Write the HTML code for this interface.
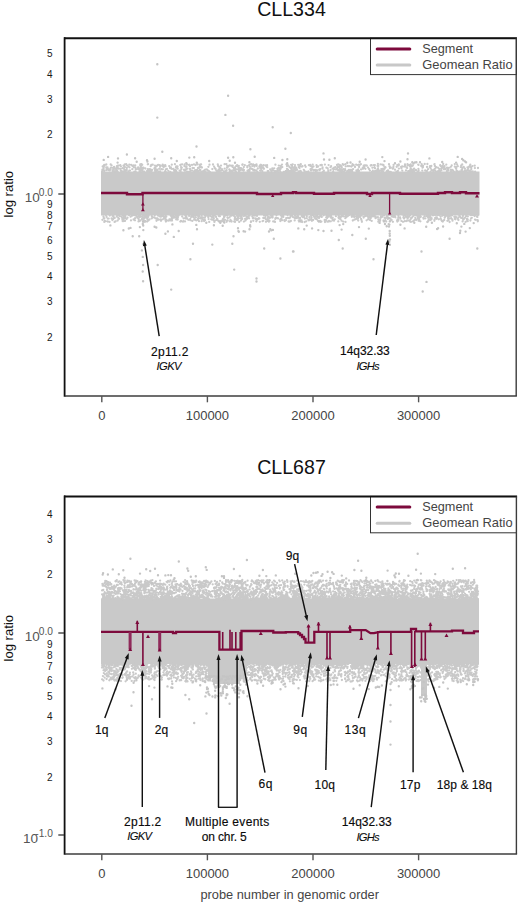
<!DOCTYPE html><html><head><meta charset="utf-8"><style>html,body{margin:0;padding:0;background:#fff;width:520px;height:903px;overflow:hidden}svg{display:block}text{font-family:"Liberation Sans",sans-serif}</style></head><body>
<svg width="520" height="903" viewBox="0 0 520 903">
<rect width="520" height="903" fill="#fff"/>
<text x="291.5" y="15.8" font-size="19.6" text-anchor="middle" fill="#111" >CLL334</text>
<rect x="101" y="171.5" width="378.5" height="44" fill="#c9c9c9"/>
<path d="M223.9 171.3h0M347.1 171.7h0M303.8 169.8h0M123.8 168.7h0M116.1 169.3h0M128.3 171.6h0M261.8 165.8h0M148.6 170.9h0M338.2 164.5h0M319.3 169.6h0M469.6 171.9h0M425.2 170.4h0M156.3 171.5h0M218.1 165.9h0M170 168h0M342.6 169.8h0M308.2 171.8h0M124.4 171h0M358.2 169.3h0M220.3 168h0M272.6 170.3h0M401.1 167h0M193.9 168.1h0M299.7 165.3h0M376.6 170.4h0M471 171.5h0M259.4 166.4h0M159.2 168.8h0M116.8 167.3h0M389.9 168.1h0M431.6 170.2h0M363.8 167.9h0M320.3 169.1h0M418.2 164.6h0M280.5 167.3h0M124.8 167h0M345.6 164.1h0M411.5 170.4h0M247.3 167.3h0M110.5 169.1h0M165.3 171.5h0M124.2 166.3h0M150.7 170.7h0M249.2 165.3h0M132.3 169.2h0M308.9 165.2h0M410.5 165.4h0M206.8 169.4h0M237.1 165.2h0M462.6 171.3h0M168.3 170.8h0M189.9 168.9h0M323.8 170.6h0M103.5 169.4h0M241 168.2h0M460.8 167.1h0M296.1 167.7h0M356.6 171.8h0M440.7 166.2h0M431.3 166h0M249.7 169.6h0M141 167.6h0M125.4 171.8h0M180.6 171.2h0M230 171.8h0M102.1 171.3h0M140.2 169.9h0M111.6 165.3h0M333.2 171.3h0M197 170h0M239.1 171.5h0M421.6 164.1h0M277.4 168.9h0M134.3 171.6h0M231 170.6h0M414.1 171.3h0M110.7 164.5h0M300.9 171.3h0M306.5 171.9h0M300.8 164.2h0M427 167h0M200.3 169.8h0M164.9 166.3h0M302.5 166.2h0M226.1 170.9h0M407.5 164.2h0M423 166h0M410.1 166.6h0M187.4 168.6h0M235.9 171.9h0M112.5 170.5h0M199.6 167h0M462.1 169.2h0M454.8 164.1h0M461.6 169.8h0M185 170.8h0M176.1 171h0M337 165h0M418.4 168.9h0M347.8 166h0M133.9 167.3h0M444.5 166.2h0M384.4 168.9h0M169.2 166.1h0M227.2 166h0M467.8 169.6h0M253.1 164.5h0M374.9 171.2h0M149.8 171.3h0M442.7 166h0M157 165.8h0M471.1 167.4h0M233.9 168.3h0M151.3 172h0M467.5 167.4h0M300.3 164.7h0M265.3 165.3h0M413 170.9h0M196.8 170.4h0M192.6 168h0M199.7 169.4h0M151.3 164.9h0M235.2 169.1h0M321.6 165h0M260.4 164.8h0M290.9 168.5h0M299.1 172h0M267.7 171.1h0M103.5 166h0M166.9 169h0M375 168.3h0M224.7 168.6h0M311.1 166.2h0M142 168.2h0M195.6 170.5h0M392.8 168.7h0M313.5 166.4h0M445.6 169.2h0M332.6 168.7h0M294.8 167h0M272.3 168.5h0M282 164.6h0M365.3 165.3h0M456.7 170.6h0M312.7 164.6h0M418.3 171.4h0M147.8 169.2h0M129.3 170.7h0M129.5 167.3h0M397.2 165.1h0M160.1 166.8h0M350.6 171.4h0M434.4 164.3h0M184.7 164.5h0M251.9 168.9h0M474.7 165.7h0M162.8 169.3h0M296.1 170h0M175.7 170.2h0M373.9 172h0M310.6 169.2h0M108.8 170.1h0M336.9 168.6h0M126.2 164.2h0M398.8 164.3h0M141.4 170.6h0M116.9 166.2h0M203.8 171.4h0M261 164.9h0M410.3 170.6h0M158.2 164.8h0M316.8 167h0M135.7 171.8h0M361.1 169.4h0M129.3 164.6h0M340.9 166h0M133.5 165.5h0M127.1 165.4h0M272.8 170h0M310.2 164.8h0M202.8 171.4h0M300.4 170.8h0M143.2 171.3h0M121 171h0M219.5 170.3h0M388 170.4h0M290.3 171.2h0M232.6 172h0M196.3 172h0M378 168.3h0M173.3 169h0M453.9 171.6h0M410.3 169.3h0M288.4 165.7h0M250 168.7h0M360.9 164.2h0M231 165.7h0M368.1 167.6h0M254.4 170h0M122.5 171.4h0M128.6 166.6h0M198.2 171.2h0M133.8 165.6h0M429.8 167.2h0M208.1 170.7h0M212.3 169.1h0M161.3 169.2h0M201.1 164.4h0M468.2 168.3h0M194 164.4h0M218.5 169.9h0M102.4 169.7h0M280.7 168.7h0M177.7 168.7h0M103.9 170.6h0M135.8 169.6h0M117.7 171.9h0M216.5 170.8h0M322.5 168.5h0M384.6 167.4h0M371.6 165.2h0M248.7 170.1h0M472.8 171.3h0M374.6 167.5h0M118.5 165.7h0M437.8 167.6h0M378.3 165.9h0M154.4 168.5h0M291.9 165.7h0M405 165.8h0M321.9 165.1h0M359.1 167h0M188.6 171.9h0M152.1 169.9h0M141.5 165.7h0M312.3 167.6h0M337.8 167.1h0M286.2 172h0M402.3 166.5h0M291.4 168.5h0M350.2 171.8h0M379.4 170.7h0M130 170.6h0M376.6 171h0M380.5 164.3h0M288 169.7h0M282.3 167.1h0M390.8 167.7h0M344 171.7h0M157.5 170.7h0M381.8 170.3h0M315.8 172h0M124.8 170.6h0M355 167h0M356.4 170.4h0M296.5 169h0M277.6 171.5h0M438.5 171h0M470.3 164.7h0M108.6 169.1h0M410.7 164.3h0M271.2 170.6h0M181 164.6h0M181.3 168h0M155.4 168.5h0M460.7 171.4h0M410.8 168.7h0M435.9 166.9h0M189.1 165h0M285 171.9h0M103.4 168.8h0M271.7 170.3h0M155 170h0M221 165.6h0M102.7 166.5h0M417.9 171.5h0M450.8 166.8h0M441.4 170.4h0M242.1 169.6h0M478 168h0M237.8 169.3h0M205.6 171.8h0M140.3 165.7h0M209.5 164.7h0M195.9 170.6h0M294.4 171.1h0M242.6 164.5h0M434.9 165.9h0M339.5 164.9h0M456.2 168.3h0M372.9 171.8h0M377.7 169.2h0M385.4 167.5h0M209.8 171.8h0M450.9 171.5h0M279.8 170h0M214.1 166.6h0M469.6 170.6h0M349 170.3h0M311.8 169.6h0M165 171.3h0M180.3 165h0M289.1 170.9h0M443.2 164h0M271.4 171.4h0M174.4 171.6h0M230.7 171.6h0M192 170.6h0M316.5 165.2h0M384.2 169.5h0M257.8 168.5h0M243.9 170h0M125.4 170.5h0M466.3 171.5h0M291.5 167.6h0M426.9 170.9h0M204 170.7h0M252.5 169.2h0M461.2 165.5h0M430.6 171.9h0M114.1 166.9h0M439.2 169h0M323.1 172h0M249.4 164.8h0M412.8 165.5h0M468 170.7h0M143.1 171.3h0M298.7 167.1h0M456.5 166.8h0M345.7 166.4h0M274.2 168.3h0M116.9 166.2h0M189.6 164.8h0M345 170.3h0M150.2 170.7h0M341.6 167h0M144.2 171.7h0M299.5 168h0M248.1 170.9h0M328.3 172h0M215.5 169.1h0M463 167.5h0M434.7 169h0M190.4 170.7h0M463.7 166.9h0M217.7 171.9h0M289.6 167.2h0M260.1 170.6h0M353.3 164.8h0M187.4 171.9h0M229.3 169.4h0M359 171h0M402.1 166.6h0M292.1 171h0M467.2 170.2h0M410.7 170.8h0M185.4 166.4h0M213 164.5h0M288.7 171.1h0M186.1 169.4h0M352.5 164.5h0M157.1 169.6h0M182.2 164.3h0M155.4 171.8h0M124.6 169.6h0M440.2 165.2h0M377.9 164h0M452.7 170.1h0M171.8 164.7h0M383 171.9h0M352.2 169.7h0M242.8 170.1h0M165.7 172h0M207.3 169.9h0M461.8 171.5h0M465 171h0M236.3 165.8h0M411.5 169.3h0M120.5 169h0M242.3 164.8h0M174.7 169.8h0M439.7 171.9h0M256.7 165.9h0M390.7 171.9h0M115.1 171.8h0M448.4 170.6h0M383.4 165h0M229.7 170.5h0M462.6 167.7h0M200.7 166.8h0M221.2 170.5h0M103.4 166.4h0M447 167.6h0M457.1 171.9h0M190.1 169h0M462.2 164.5h0M247.5 170.7h0M263.9 168.8h0M451.4 171.1h0M404.2 166.6h0M411.8 166.3h0M330.6 170.1h0M222.3 169.9h0M396.5 171.7h0M176.3 166.5h0M195.1 171.8h0M114.7 168.3h0M224.6 164.2h0M434.6 164.1h0M201.7 171.7h0M138.3 168.8h0M369.2 169.2h0M190.2 169.4h0M335.5 167.2h0M383.6 165.6h0M352.2 171.5h0M418.6 170.4h0M315.4 169.8h0M379.9 171h0M195.2 170.7h0M159.7 165.2h0M319.7 170.1h0M251.1 164.1h0M293 170.8h0M406.4 167.4h0M475.1 171.6h0M280.7 165.8h0M418.5 164.9h0M117.2 170.4h0M146.9 171.1h0M468.3 168h0M452.2 169.8h0M428.1 169.2h0M199.9 166.2h0M458.1 171.6h0M326.4 167.7h0M183.9 169.8h0M155.2 171h0M198 167.9h0M347.3 171h0M106.3 170.1h0M357.4 171.1h0M219.5 171h0M401.4 168.3h0M125.8 171.6h0M250.8 168.3h0M342.7 171.6h0M163.6 167h0M256.3 170.4h0M217.8 164.5h0M219.6 168.2h0M236.5 169.4h0M427.4 164h0M239 171h0M376.1 171h0M104.2 165h0M261.5 165.8h0M254.9 165.2h0M275.5 171.2h0M107.6 168.3h0M343.2 164.9h0M135.5 167.7h0M241.6 168.7h0M156.9 170.4h0M298.2 164.8h0M143 168.8h0M405 164.3h0M176.3 171.5h0M457.1 164.3h0M283.8 171.8h0M450.7 169.7h0M442.4 167.7h0M412.4 171.3h0M397.9 170.9h0M254.3 165.6h0M414.2 171.1h0M184.1 169.6h0M297 169.7h0M148.3 170.7h0M374.9 165.1h0M117.5 168.2h0M387.2 171.9h0M417.6 171.5h0M327.7 168.3h0M338.1 170.3h0M260.2 168h0M262.3 167.3h0M270.2 169.3h0M110.8 167.7h0M286.3 170.8h0M389.5 166.2h0M274.5 171.1h0M280.2 171.6h0M150.4 169.3h0M136.5 169.2h0M294.1 171.9h0M341.6 171.7h0M378.2 166.2h0M294.6 171.8h0M291.7 169.7h0M460 171.4h0M424.7 164h0M377.6 165.9h0M174.9 164.2h0M287.2 164.4h0M446.9 171.2h0M398.8 164.7h0M126.7 169.9h0M386.7 171.3h0M439.5 170.5h0M409.1 171.4h0M291.1 164.8h0M180.4 170.6h0M292.5 170.2h0M115.9 171.1h0M162.7 164.7h0M357.9 165.1h0M165.5 166.2h0M145.3 168.5h0M341.6 169.9h0M430.7 168.3h0M320.4 165.2h0M141.4 164.1h0M339.1 169.6h0M402.3 170.6h0M474.9 168.1h0M237.6 166.4h0M268.5 171.2h0M382 171.8h0M410.7 170.7h0M342.7 164.2h0M322.6 167.3h0M219.7 172h0M114.7 171.3h0M333.9 169.3h0M295 165.1h0M151.7 170.8h0M347.9 171.9h0M103 169.9h0M142 169.9h0M186.4 168h0M323.8 171h0M336.9 169h0M152.7 164.7h0M193.7 171.3h0M138.1 167.5h0M430 166.2h0M253.3 170.6h0M106.3 167.5h0M313.7 170h0M345.1 169.2h0M454.8 166.7h0M195.6 165h0M118.6 168.5h0M254.9 170.8h0M124 166.2h0M106.6 168.3h0M456.3 171.4h0M177.1 167.8h0M292.9 167.5h0M408.2 171.2h0M218.5 170.3h0M120.3 165.1h0M396.8 166.8h0M104.4 165.6h0M382.6 169h0M381.3 169.1h0M187.1 171.6h0M189.5 171.9h0M228.3 166.5h0M363.7 165.6h0M369.9 170.6h0M310.5 169.3h0M398.9 168.6h0M201.9 167.5h0M465.4 170.9h0M433.3 172h0M200 170.8h0M382.1 164.6h0M382.9 170.1h0M433.4 170.1h0M192 164.9h0M339.5 167h0M352.5 164.2h0M278.8 165.6h0M364.7 165.4h0M266.6 166.7h0M316.7 170.3h0M181.8 167.7h0M131.3 164.9h0M156.4 171.9h0M142.2 164.7h0M231.8 171.4h0M112.8 171.9h0M362.8 167.6h0M364.4 166.6h0M126.8 168h0M238.8 165.8h0M410.6 165.1h0M126.8 165.3h0M446.3 164.6h0M142.3 171h0M144.2 171.9h0M421.2 165.9h0M340.8 165.8h0M339.8 170.4h0M139.6 171.6h0M387.1 171h0M222.2 169.4h0M109.9 170.6h0M208.4 166.8h0M240.6 170.2h0M464.9 168.7h0M422.5 167.7h0M113.7 169.5h0M266.3 166.3h0M232.6 166.9h0M304.5 170.9h0M426.6 171.6h0M410.7 171.2h0M102.5 171h0M389 164.2h0M103.6 168.8h0M287 166h0M171.5 168.8h0M232.7 165.7h0M200.1 164.6h0M208.8 170.9h0M365.4 168.8h0M143.4 167.6h0M132.5 166.1h0M364.5 166.1h0M338.4 169.9h0M253.1 169.6h0M437.2 171.7h0M436.5 171.9h0M179.6 170.6h0M441.3 168.7h0M244.8 165.2h0M189.9 169.1h0M302.1 166.5h0M385.5 167.5h0M233.2 170.1h0M160.5 165.6h0M351.3 166.6h0M165.8 169.3h0M393.2 168.1h0M149.5 169.1h0M435.2 170.8h0M174.1 170.3h0M366.7 165.6h0M160.2 171.3h0M195.2 170.1h0M298.6 171.3h0M225.5 171.1h0M469.1 166.7h0M140.3 164.4h0M140.3 169.7h0M472.4 166.1h0M378.1 169.3h0M175.9 167.5h0M142.2 171h0M248.2 171.9h0M252.2 166.1h0M363.1 168.7h0M340.1 169.1h0M155.4 167.8h0M254.4 166.6h0M443.9 169.3h0M318.1 166.5h0M260.6 170.8h0M373.9 165.2h0M393.4 167h0M422.9 167.2h0M343.5 169.1h0M219.8 167.6h0M138.8 169.4h0M396.6 166.8h0M339 170.7h0M261.5 169.1h0M336 169.5h0M356.2 164.7h0M170.9 167.4h0M395 169.7h0M286.4 164.3h0M116.4 168.4h0M162.6 166.2h0M456.1 168.6h0M140.1 168.1h0M305.7 166.8h0M294.8 167.5h0M414.1 168.6h0M256.5 164.5h0M181.1 167.1h0M249.8 166.4h0M148.1 164.2h0M235.8 171.8h0M205.3 169.6h0M107 169.4h0M260.3 167h0M234.6 170.6h0M186.5 166.6h0M455.9 168.5h0M184.4 166h0M249.6 170.9h0M150.7 166.2h0M406.8 167.6h0M278.6 168.2h0M187.1 164.4h0M235 167.5h0M410.3 165.9h0M278.2 170.4h0M308.4 171.5h0M415.9 169.9h0M422.3 170.6h0M243.6 170.7h0M262.4 171.1h0M103 166.8h0M207.9 170.7h0M215.6 168.9h0M263.3 167.5h0M350.2 169.9h0M451.7 165.5h0M123.5 165.7h0M443 166.2h0M154.9 165.7h0M340.4 172h0M106.3 164.5h0M349 170.7h0M140.2 171.4h0M190 166.2h0M232.4 171.3h0M442.4 166.1h0M165.2 165.1h0M331.1 166.2h0M353.7 165.1h0M398.7 165.6h0M176.3 167h0M301.8 166.6h0M267.1 165.2h0M311 170.6h0M190.2 171.4h0M287.6 171.8h0M277.9 171.4h0M287 168.8h0M305.1 165.4h0M104.5 165.6h0M278.2 168.2h0M352.5 165.6h0M243.2 169.4h0M463.7 171.7h0M341.8 167.6h0M112.7 167.8h0M359 164.7h0M226.4 164.2h0M294.3 168.9h0M439.9 171.9h0M372.4 167.7h0M229.5 165.4h0M239.9 169h0M299.9 166.3h0M181.3 169.3h0M261 168.3h0M413.3 170.4h0M413.6 169.5h0M291.7 170.5h0M292.7 164.3h0M348.4 166.1h0M226.6 170.2h0M214.7 168h0M341 166.2h0M117.1 166.8h0M435.4 168.4h0M120.7 170.3h0M104.3 171.1h0M448.9 167.8h0M349.7 166.1h0M444.5 167.8h0M334.2 167.6h0M364.2 167.9h0M358.4 170.9h0M353.1 169.1h0M389.1 171.6h0M170.3 171.9h0M393.6 164.9h0M348.9 169.8h0M411.7 166.1h0M313.6 170.6h0M215.7 169.4h0M221.9 169.3h0M343.6 164.7h0M122.6 168.2h0M116.8 171.5h0M407.1 168.1h0M447.9 169.2h0M107.3 169.7h0M324.9 164.6h0M471.3 169h0M257.3 171.6h0M344.7 170.9h0M159.1 172h0M103.8 167.1h0M147.8 164.3h0M135.2 165.3h0M150.6 172h0M372.8 170.7h0M378.2 171.1h0M120.9 166.3h0M370.7 165.5h0M376.7 171.7h0M338.7 166.9h0M275.4 164.7h0M197.7 164.4h0M372 172h0M107.5 167.4h0M409.7 171.7h0M219.1 166.7h0M164.5 165.4h0M285.1 171.8h0M240.4 168.1h0M267.2 167.2h0M156.6 166h0M238.8 167.5h0M339.1 169.4h0M247.2 166.1h0M457.8 166.2h0M315.4 170.4h0M124.8 164.3h0M366.8 165.7h0M227 167.8h0M470 165.7h0M328.3 170.3h0M263.4 165.1h0M243.8 167.1h0M328.6 165.1h0M406 170.4h0M102.6 170.6h0M261.1 168h0M409.2 165.2h0M117.9 165.7h0M407.6 165.4h0M317.3 170.5h0M422.5 165.9h0M359.8 164.9h0M232.6 171.7h0M310.5 166h0M177.5 166.5h0M452.8 170.8h0M330.5 167.2h0M277.2 171h0M197.9 219.8h0M400.1 217.5h0M135 220.3h0M392.7 216.1h0M320.2 221.1h0M435.2 218h0M281.4 218.5h0M173.2 215.8h0M170 219.4h0M238.6 218.3h0M253.5 218h0M158.1 215.1h0M477.4 216.9h0M142 218.9h0M398.4 215.6h0M326.9 216.8h0M297.6 215h0M114.6 221.9h0M428.1 217.7h0M315.5 216.2h0M395.4 217.3h0M458.4 220h0M410.3 221.7h0M197.6 215.1h0M177.7 215.8h0M133.5 215.1h0M311.9 220.8h0M274.5 221.5h0M444.6 215.2h0M327.2 217.1h0M147.1 221.6h0M198.8 218.3h0M343.2 221.6h0M354.2 217.1h0M270.8 215.6h0M465.6 221.9h0M185.5 215.1h0M198.3 216.8h0M441.9 221.1h0M417.2 215.1h0M398.1 219.5h0M345.5 221.9h0M123 215.6h0M386.2 221.5h0M356.8 216.5h0M324.7 219.9h0M141.7 216.6h0M198.8 215.5h0M283.2 215.7h0M191.8 215.6h0M357.1 215h0M372 215.8h0M115.6 221.3h0M185 221.4h0M428.3 221h0M154.6 217.5h0M138.5 221.4h0M419.1 218.8h0M272.3 216.7h0M411.9 217.7h0M338.5 215.6h0M185.5 215.2h0M370.7 218.2h0M156.5 220.8h0M202.3 217.2h0M160.6 216.3h0M418.1 216.7h0M165.2 217.8h0M221.8 221.1h0M145 221.8h0M123.4 221.1h0M353.6 215.9h0M281.8 216.4h0M199.1 215.9h0M239.2 221.9h0M477.8 221.3h0M138.7 216.4h0M439.4 215.2h0M375.5 216.4h0M470.5 215h0M405.8 216.7h0M154.8 215h0M415.3 218h0M172 217.4h0M445.4 216h0M317.1 215.5h0M169.8 220h0M369.9 215.8h0M131.8 215.3h0M331.1 217.8h0M205.1 215.9h0M332.6 219.5h0M407.6 218.5h0M178.2 215.2h0M377.9 217.2h0M373.7 215.2h0M407.2 216.7h0M419 220.8h0M287.6 215h0M444.7 217.7h0M430.3 216.3h0M172 220.5h0M240.2 215.7h0M241.7 218.6h0M103.7 218h0M269.8 218h0M147.5 219.5h0M409.4 220.8h0M222.8 219.5h0M245.6 219.8h0M125 220.9h0M461.2 217.8h0M295.3 218.1h0M304.3 215h0M466.2 216h0M170.7 215.4h0M196.3 220.4h0M113.3 215.3h0M365.2 215.8h0M108.7 218.6h0M319 218h0M366.5 215.4h0M429.4 219.5h0M119 215.5h0M287.8 217.8h0M207.3 215.5h0M254.7 215.5h0M324.8 220.8h0M157.4 218.4h0M383.1 215.7h0M413 221.4h0M248.4 217.3h0M418.2 218h0M251 221.5h0M394.5 216.7h0M192.5 216.7h0M266 221.8h0M404.8 221.2h0M408.9 220.6h0M122.2 218h0M462.6 221.4h0M195.9 217.3h0M340.2 216.9h0M301.8 215.2h0M265 217.9h0M109.8 215.5h0M467.1 220h0M454.8 218.9h0M406.7 221h0M435.1 215.1h0M343.6 216.3h0M357.4 216.3h0M306.2 221.3h0M335.9 216.2h0M297.9 217.4h0M460 216.4h0M217 219h0M147.3 218.6h0M462 217.9h0M203.1 217.6h0M303 215.6h0M148.7 215.5h0M212.5 217.2h0M210.5 216.1h0M135.1 218.2h0M418.2 218.7h0M316.7 219h0M177.7 219.5h0M275.5 218.2h0M332.7 217.6h0M218.9 216.1h0M185.4 217.9h0M246.3 218.5h0M106.5 216.8h0M426.5 216.1h0M311.6 217.8h0M209.2 221.9h0M213.3 220h0M161.7 215.2h0M430 217.4h0M125.3 217h0M267.6 219.7h0M143.1 216h0M463.2 219.7h0M160.2 216.7h0M234.7 219.2h0M334 220.7h0M411.2 218h0M380.1 219.8h0M388 217.7h0M397.5 219.5h0M446.4 215.5h0M429.9 215h0M390.3 218.5h0M289.5 221.7h0M317.3 217.3h0M397.1 220.9h0M330.7 217h0M272.3 217.5h0M374.2 216.4h0M249.1 218.3h0M246.8 216.6h0M398.3 220.7h0M290.1 217.4h0M171.4 216.5h0M156.6 218.4h0M321 215.3h0M448.4 216.6h0M419.5 220.6h0M463 215.9h0M262.6 221.2h0M106 215.1h0M314.7 217.8h0M448.5 220h0M304.7 222h0M296.8 218h0M360 217.1h0M236.7 218.6h0M234.2 221.5h0M356.7 218h0M139.3 217h0M252.9 218.3h0M318.1 220.9h0M465.1 217.7h0M267.7 218.8h0M477 216.7h0M301.6 220.4h0M166.3 216.6h0M470.4 220.5h0M295 215.4h0M438.8 219.3h0M410.9 221.9h0M436.4 217.3h0M160.9 216.4h0M294.6 217.9h0M172.8 215.8h0M339.2 218.6h0M235 221.9h0M341.6 215.1h0M256.9 220.1h0M217.5 219.3h0M103.5 216.5h0M419.1 218.5h0M353.5 215.8h0M289.4 218.2h0M202.2 219h0M302.1 222h0M318.3 217.2h0M147.7 215.6h0M388 215.4h0M139.7 215.7h0M298.7 220.4h0M332.8 220.3h0M125.4 215h0M392.1 216.6h0M371.4 216.8h0M165.8 216.3h0M139.4 221.1h0M321.2 216.8h0M271.4 217h0M122.6 221h0M321.4 221.6h0M267.5 218.8h0M195.9 215.1h0M452.5 220.7h0M220.5 221.1h0M409.2 216.5h0M328.9 221.6h0M288.6 221.5h0M193.5 217.1h0M372.5 216h0M218.4 220.9h0M284.4 220.2h0M193.6 215.7h0M236.9 215.8h0M467.8 216.4h0M313.4 215.4h0M303 217h0M253.8 215.2h0M148.4 220.5h0M234.2 216.1h0M174 216.4h0M191.3 215.1h0M352.1 216.7h0M160.7 219.5h0M136.9 216.3h0M416.4 215.5h0M268.9 220.5h0M405.1 215.6h0M234.9 219.6h0M243.9 221.6h0M180.3 221.6h0M292.1 216h0M272.4 215.5h0M368 216.2h0M440.7 218.5h0M240.6 216.1h0M331 215.9h0M430.5 215.5h0M295.2 218.2h0M203.8 220h0M246.9 219.1h0M315.7 216.5h0M248.8 215.3h0M168.7 220.7h0M222.9 219.1h0M143 218.3h0M238.1 217.8h0M213.8 215.2h0M219.2 216h0M149.5 219.5h0M208.3 217.2h0M444.2 220h0M434.4 220.8h0M151.8 216.3h0M113.1 219.2h0M351.8 216.8h0M257.3 219.1h0M365.3 216.1h0M420.8 216.8h0M338.8 215.8h0M145.4 221.2h0M378.4 219.5h0M117.2 215.1h0M163 215.9h0M216.1 217h0M116.8 216.5h0M342.3 215.8h0M418.1 218.4h0M371.8 216.2h0M265.8 219.3h0M233.4 215h0M416.1 220h0M209.8 215.1h0M423.6 218.7h0M119.8 216.1h0M143.9 220.2h0M181.1 221.2h0M384.2 215.3h0M363.5 217.1h0M383.5 220.5h0M207.9 215.3h0M458.3 217.3h0M452.2 219.3h0M380.1 220.5h0M338.5 217.5h0M122.4 219.4h0M263.3 217.9h0M451.4 215.5h0M388.9 215.1h0M366.6 220.3h0M200.3 218.2h0M467 218.9h0M306.8 216.2h0M124.4 216.8h0M257 215.9h0M218.9 215.5h0M368.2 219.2h0M191.6 216.1h0M296 217.4h0M454.3 216.8h0M214.7 221h0M155.4 218.3h0M227.6 220.4h0M308.4 219.9h0M165.7 219.1h0M327.4 217.6h0M390.5 220.5h0M145.1 216.4h0M237.7 215.9h0M124.7 216.3h0M176.2 219.4h0M270.7 215.4h0M224.2 217.6h0M238.7 215.7h0M129 215h0M475.5 219.8h0M133.6 219.5h0M471.1 218.3h0M143 217.8h0M265.5 215.8h0M306.5 215h0M448.2 219h0M338.3 221.4h0M347.7 216.2h0M194.6 215.5h0M112.4 220h0M418.1 216.4h0M171.9 218.9h0M420.4 221.3h0M165.4 220.1h0M414.6 219.8h0M225 215.8h0M412.7 216.6h0M240.7 218.2h0M241 220.5h0M192.1 215.1h0M315.4 218.8h0M410.6 219.4h0M442.8 221.5h0M288.1 217.8h0M161.3 216.5h0M320.8 215.3h0M361 215.7h0M268.9 221.7h0M135.8 215.1h0M267.5 215.8h0M374.2 215h0M418.6 220.7h0M398.3 217.3h0M208.6 219.1h0M295.8 217.3h0M229.5 217.4h0M352.8 220.5h0M442.4 215.7h0M213.3 217.4h0M314.1 216.8h0M175.6 215.3h0M223.9 217.6h0M467.7 221.2h0M427.8 221.8h0M464.1 218.8h0M407.4 215.2h0M356.7 218.7h0M213.8 218.4h0M460.7 217.7h0M345.7 216.5h0M231.3 221h0M112.5 215.8h0M357.5 217.5h0M134.1 219.1h0M242.1 218.5h0M258.8 218.1h0M314.7 217.1h0M145 215.8h0M437.1 218.2h0M144.3 220.8h0M197.4 215.3h0M301.8 216.2h0M286.2 218.2h0M187.3 218.4h0M144.6 217.9h0M323.6 215.3h0M255.6 215.2h0M267.5 220.8h0M309.3 219.5h0M387 215.4h0M475 219.6h0M140.4 220.5h0M249.6 215.7h0M463.5 218.3h0M393.8 215.5h0M394.2 215.2h0M191.2 216.9h0M107.7 218.6h0M182.2 216.5h0M368.3 217.3h0M436.6 218.8h0M430.4 218.3h0M447.4 220.8h0M165.3 219.8h0M230.5 219.9h0M358.2 220.5h0M148.2 216.9h0M379.6 221.5h0M373.7 215.1h0M329.3 215.3h0M308.6 220.3h0M144.5 221.3h0M356.2 216.2h0M174.7 217.5h0M417.6 218.5h0M144.8 215h0M143.6 220.2h0M171.8 218.3h0M211.2 219.3h0M245.4 215.6h0M431.6 218.1h0M361.6 220.3h0M459.2 215h0M230.9 215.6h0M290.9 220.9h0M403.4 215.1h0M170.6 220.4h0M357.8 217.1h0M281.1 215.6h0M420.2 217.1h0M430.7 218.7h0M130.6 216.7h0M183.4 221.1h0M323.8 215.1h0M165.9 216.9h0M278.1 218.4h0M248 216.8h0M104.3 218.4h0M227.7 215h0M275 221.9h0M119.1 215.6h0M354.6 216.3h0M204.9 217.8h0M200.7 218.4h0M300.8 221.6h0M475.6 215.1h0M313.1 220h0M430.5 220h0M340.4 218.9h0M238.6 216.3h0M401.4 220.9h0M455.4 219.3h0M216.5 219.9h0M380.4 217.9h0M341.2 216.8h0M309.4 217.2h0M124.8 216.7h0M223.7 221.9h0M283.3 216.9h0M193.6 216.1h0M233.5 215.5h0M104.7 220.8h0M272.6 217.4h0M316.1 216.5h0M165.6 215.2h0M215.5 216.5h0M375.6 218.2h0M454.9 216.7h0M448.8 218.5h0M132.1 215.7h0M320.6 221.9h0M236.4 220h0M263.2 220.8h0M127.5 217.7h0M440.5 216.3h0M199 215.1h0M164 216.3h0M367.2 216h0M252.4 215.9h0M329 220.8h0M346 215.8h0M378.3 221.7h0M328.3 215.3h0M406.8 220.9h0M230.4 215.5h0M172.8 218.1h0M431.6 218.9h0M449.5 215.9h0M225 219.8h0M346.3 217.2h0M357.6 216.7h0M123.6 217.2h0M119.1 218.8h0M227.9 217.8h0M327.1 216.2h0M276.5 215h0M450.4 218.3h0M473.8 215.2h0M333.2 219.6h0M225.9 215.3h0M160.8 215.6h0M390.8 215.3h0M408.5 217.3h0M304.8 218.5h0M311 219.1h0M328.5 216.7h0M381 216.2h0M369.9 219.9h0M394.2 216.5h0M392.9 221.8h0M272.6 216.3h0M299 221.5h0M151.6 215h0M281.1 219h0M393.5 216.9h0M474.6 216h0M386.9 215.3h0M112.5 215.5h0M124.7 217.9h0M311.1 215.8h0M455.8 216.9h0M158.2 215.7h0M379.8 221.3h0M163 215.1h0M395 216.1h0M471.8 217.8h0M341.5 216.7h0M403.4 217.6h0M223.9 221.1h0M142.6 219.7h0M126.6 219h0M253.3 220.8h0M124.6 218.3h0M256.3 221.3h0M457.8 218.8h0M186.4 216.2h0M200.8 217.4h0M189.1 215.9h0M387.8 218.9h0M214.4 221.9h0M183.6 218.4h0M161 220.8h0M429.3 216.3h0M385 220.4h0M208.4 216.7h0M284.8 221h0M162.8 219.3h0M327 217.5h0M320.1 221h0M181 221h0M237.7 220.1h0M427.1 215.8h0M427.3 222h0M214 215.1h0M144 221.8h0M105.5 221.2h0M158.8 219.7h0M138.7 215.7h0M359.1 215.3h0M229.8 221.3h0M371.7 220.9h0M470.8 215.1h0M190.3 220.2h0M361.6 215.1h0M292.1 216h0M264.1 215.4h0M109.5 221.9h0M221.2 220.9h0M147.4 217.7h0M153.1 217.3h0M169.4 219.3h0M157.7 219.7h0M290.5 215.4h0M235.1 217.8h0M447.9 216.8h0M183 221.7h0M434.5 219.7h0M204.8 215.7h0M201.6 215.2h0M118.3 217.9h0M255.7 218.3h0M238.5 215h0M361.1 219h0M306.8 218.2h0M361.9 221.8h0M431.1 219.5h0M252.3 216.6h0M259.8 221.8h0M247.7 217h0M256.4 215.6h0M477.9 215h0M330.8 221.3h0M197.9 218.7h0M243.9 216.1h0M176.7 215.4h0M419.4 220.1h0M444.1 215.1h0M363.4 216.6h0M345.3 218.2h0M220.8 221.7h0M102.4 219.8h0M423.3 217.9h0M325 222h0M190.3 218.8h0M381.9 217h0M370.1 217.1h0M300.1 218.7h0M357 216.6h0M338.8 218.2h0M186.1 218.7h0M201.7 221.2h0M280.2 219.6h0M298.5 217.7h0M185.3 215.6h0M451.1 218.1h0M299.3 218h0M408.2 216.1h0M166.9 220.4h0M275.3 218.9h0M413.5 221.1h0M428.7 215.1h0M245.5 220.5h0M409.9 215.5h0M159.9 216.2h0M140.7 216.8h0M404.4 218h0M272.5 215.3h0M250.9 222h0M363.7 217.5h0M282.1 220.2h0M387.7 215.6h0M358.1 216.9h0M298 216.1h0M241.6 216.7h0M245.5 215h0M177.6 218.4h0M123.7 215.7h0M372.4 216.3h0M224 216.1h0M416.1 215.3h0M341.5 220.7h0M177.9 217.3h0M400.3 218.7h0M241.9 215.1h0M268.6 216.9h0M370.3 216.4h0M255.6 219h0M407.3 216.8h0M247.1 218.4h0M450.2 215.8h0M467.7 219.5h0M242.2 219.1h0M226 215.2h0M386.6 217h0M300 217.8h0M441.3 219.9h0M111.6 218.5h0M276.1 217.6h0M418.1 217.2h0M280.3 221h0M267.6 217.8h0M294.7 220.4h0M354.4 219.7h0M253.2 215.1h0M358 218.2h0M391.6 220h0M146.5 216h0M131 220.4h0M140.3 215.3h0M385.6 218.3h0M122.7 219.2h0M369.7 217.7h0M122.6 219.3h0M259.3 218.5h0M477.8 220.4h0M430.3 215.6h0M227.9 218h0M104.3 221.9h0M205.4 216.2h0M219.9 216.2h0M425.4 218.3h0M294.4 217.3h0M121.3 216.5h0M428.3 220.3h0M424.5 216.2h0M178.1 215.2h0M304.1 216.9h0M276.8 217.8h0M321.8 216.9h0M403.7 215.9h0M448.1 218.3h0M121.3 216.6h0M302.7 217.2h0M314.7 216.6h0M205 220.2h0M211.8 219.5h0M404.1 218.5h0M273.2 221.4h0M269.5 220.9h0M123.7 217.4h0M342.7 215.1h0M426.8 215.2h0M326.5 215.8h0M449.3 218.3h0M403.5 217.8h0M355.7 219.2h0M213 215.9h0M417.6 215.6h0M447.6 215.9h0M140 215.3h0M397.3 221.6h0M258.1 219.1h0M199 221.2h0M360.2 215.6h0M123.3 219.4h0M117.7 220.5h0M212.6 216.1h0M321.1 216.6h0M313.1 215.6h0M445.3 216.6h0M418.8 215.6h0M403 221.8h0M249.4 215.1h0M245.1 218.9h0M186.1 218.2h0M137.2 217.6h0M376.2 217.3h0M357.6 215.4h0M413.9 215.5h0M449.6 222h0M455.7 218h0M211.5 216.8h0M384.5 217.8h0M452.1 215.3h0M284.5 220.8h0M327.1 218.1h0M135.3 215.5h0M204.1 221h0M420.3 216h0M450.1 215.1h0M327.4 221.7h0M231.6 221.5h0M349.2 215.1h0M227.4 217.5h0M195.1 219.8h0M169.3 220.1h0M214.3 215.2h0M312.5 215.3h0M309.7 220.1h0M326.2 217.6h0M114.7 217.9h0M138.6 219h0M151.7 218.4h0M234.9 217h0M351.7 215.7h0M165.9 221.5h0M226.9 220.6h0M430.8 217.7h0M158.1 215.3h0M433 215.4h0M288.8 218.1h0M146.3 217.6h0M163.8 218.1h0M292.8 216.9h0M176.4 217.2h0M178.6 215.5h0M192.3 220.9h0M290.9 221h0M107.7 221.5h0M285.9 220.2h0M316.8 219.3h0M188.3 219.8h0M159.9 216.2h0M113.6 217.1h0M297.1 216.4h0M437.3 215.3h0M319.8 216.1h0M326.1 220.1h0M369.6 215.2h0M194.5 218.6h0M472.1 215.1h0M334.8 219.3h0M408.7 216.7h0M407.2 217.6h0M448.7 215h0M456 217.2h0M255.3 215.3h0M194.2 219.7h0M357.6 215.6h0M231.6 215.5h0M176.6 216h0M226.6 221.8h0M477.5 220.2h0" stroke="#c9c9c9" stroke-width="2.3" stroke-linecap="round" fill="none"/>
<path d="M282.4 160h0M395 163.3h0M384.5 161.1h0M176.8 161h0M420 162.3h0M136.7 161.7h0M233.3 157.3h0M465.1 161.4h0M382.3 157.1h0M413.5 163.5h0M442.2 162h0M415 162.4h0M324 159.5h0M412.3 162.3h0M429.4 158.4h0M463.3 160.3h0M457.7 156.9h0M466.1 162.3h0M196.8 162.7h0M189.3 157.6h0M274.2 157.9h0M287.2 163.3h0M359.7 161.7h0M249.4 162.3h0M400.4 161.5h0M456.1 162.6h0M254.7 156.7h0M347.3 162.7h0M229.7 160.8h0M416.4 162.3h0M103.7 159.9h0M108.1 156.9h0M407.5 159.3h0M329.4 159.7h0M228.1 157.7h0M235 162.8h0M334.8 158.3h0M135.1 158.2h0M365.6 159.5h0M350.5 162.5h0M147.4 161.5h0M117.6 162.6h0M171.2 158.2h0M462.1 158.9h0M186.3 163.1h0M331.5 230.8h0M250.3 226.5h0M461.4 226.6h0M473.7 223.1h0M414.3 222.8h0M300.2 221h0M167.9 231.4h0M272.9 229.9h0M196.3 224.9h0M139.9 227.1h0M426.2 226.7h0M243.6 231.2h0M438.1 228.3h0M130.5 227.9h0M269 231.5h0M238 228.3h0M339.6 225.1h0M298.3 228.4h0M443.1 226.5h0M238.8 231.7h0M123.4 230.2h0M359 227.1h0M270.3 229.3h0M437.1 229h0M383.9 221.4h0M224.3 222.5h0M460.3 230.8h0M156.3 227.5h0M318.9 221.5h0M249.5 229.2h0M343.2 224.1h0M388.7 224.2h0M306.7 225.6h0M469.8 228.1h0M404.6 228.4h0M245.1 231.6h0M368.8 228.6h0M206.3 222.8h0M318.3 230.1h0M400.4 224.8h0M154.6 226.7h0M431.9 222.8h0M379.6 222.9h0M219.3 221.6h0M213.9 225.2h0M465.6 231.6h0M172.4 224.4h0M456.8 223.2h0M222.7 225.8h0M142.8 223.9h0M250.1 225.2h0M464.3 223.9h0M178.7 231h0M271.3 230.2h0M341.6 229.6h0M220.3 222.7h0M386.7 226.2h0M312.1 228.4h0M385 224h0M238.4 231.1h0M143 221.6h0M143.2 225.5h0M143.3 230.1h0M143.4 244.1h0M142.8 256.9h0M142.7 271.5h0M389 218.1h0M389.8 221.4h0M389.4 224.6h0M389 226.6h0M389.7 230.9h0M389.7 233.4h0M389.8 235.8h0M390 239.5h0M389.3 241.8h0M389.9 244.7h0M157.3 64.2h0M157.3 117.6h0M228.1 95.7h0M225.4 114.9h0M233.1 125.7h0M272.7 127.2h0M290.8 133h0M196.5 146.5h0M250.4 149.2h0M285.4 148.8h0M162.3 151.8h0M126.9 154.5h0M118 158.4h0M194.2 157.2h0M154.6 158.8h0M147 160.3h0M287.3 159.2h0M209.2 161h0M408 153.4h0M323.5 153.4h0M132.7 236.2h0M139.2 236.2h0M165.4 233.8h0M173.8 236.9h0M141.9 250.4h0M143.1 265h0M143.1 281.2h0M157.7 265h0M171.2 289.6h0M190.4 259.2h0M212.3 244.6h0M233.5 236.2h0M232.3 243.8h0M234.2 269.6h0M256.5 278.5h0M256.5 281.5h0M264.2 248.5h0M273.8 238.8h0M280.4 258.5h0M293 251.5h0M110.4 225.4h0M128.8 228.5h0M193 243.8h0M197 229.2h0M293.5 251.5h0M342.7 248.5h0M352.3 235h0M365.8 238.8h0M373.5 259.2h0M338.8 240h0M421.5 251.5h0M426.5 281.9h0M422.7 291.5h0M449.6 238.8h0M477.3 248.5h0M460 233h0M323.5 231h0M304.2 229.2h0" stroke="#c4c4c4" stroke-width="2.4" stroke-linecap="round" fill="none"/>
<path d="M101 193H127V194.2H142.5V193H257V194H281V193H293V192.2H296V193H314V193.8H334V193H367V194H372V193H400V193.8H438V193H445V192.3H452V193H460V192.2H466V193.2H479.5" stroke="#7d0a3c" stroke-width="2.4" fill="none"/>
<path d="M142.9 193V209.5M389.6 193V213" stroke="#7d0a3c" stroke-width="1.3" fill="none"/>
<path d="M141 205.5h3.8l-1.9-3.2zM141 211.2h3.8l-1.9-3.2zM388 214.5h3.4l-1.7-3zM271 197h3.4l-1.7-3zM368.3 197h3.4l-1.7-3zM475 197.5h4l-2-3.2z" fill="#7d0a3c"/>
<line x1="159.2" y1="336.2" x2="144.7" y2="244.9" stroke="#111" stroke-width="1.45"/><path d="M143.9 240.0L146.8 245.6L142.9 246.2Z" fill="#111"/>
<line x1="376.2" y1="335" x2="387.5" y2="243.8" stroke="#111" stroke-width="1.45"/><path d="M388.1 238.8L389.3 245.0L385.4 244.5Z" fill="#111"/>
<text x="169.7" y="355.5" font-size="12" text-anchor="middle" fill="#0a0a0a" stroke="#0a0a0a" stroke-width="0.15" textLength="37.3" lengthAdjust="spacing">2p11.2</text>
<text x="169" y="369.9" font-size="11.2" text-anchor="middle" fill="#0a0a0a" stroke="#0a0a0a" stroke-width="0.1" textLength="25" lengthAdjust="spacing" font-style="italic">IGKV</text>
<text x="364.9" y="354.6" font-size="12" text-anchor="middle" fill="#0a0a0a" stroke="#0a0a0a" stroke-width="0.15" textLength="49.6" lengthAdjust="spacing">14q32.33</text>
<text x="368.1" y="369.5" font-size="11.2" text-anchor="middle" fill="#0a0a0a" stroke="#0a0a0a" stroke-width="0.1" textLength="23.2" lengthAdjust="spacing" font-style="italic">IGHs</text>
<rect x="370.5" y="38.2" width="146" height="36.4" fill="#fff" stroke="#333" stroke-width="1"/>
<line x1="377.2" y1="48.9" x2="409.8" y2="48.9" stroke="#7d0a3c" stroke-width="3" stroke-linecap="round"/>
<line x1="377.2" y1="65" x2="409.8" y2="65" stroke="#c8c8c8" stroke-width="3" stroke-linecap="round"/>
<text x="422.3" y="52.5" font-size="12.7" text-anchor="start" fill="#444" >Segment</text>
<text x="422.3" y="68.6" font-size="12.9" text-anchor="start" fill="#444" >Geomean Ratio</text>
<line x1="64.6" y1="37.2" x2="64.6" y2="396.7" stroke="#111" stroke-width="1.8"/>
<line x1="64" y1="38.2" x2="516.9" y2="38.2" stroke="#111" stroke-width="2"/>
<line x1="516.2" y1="38.2" x2="516.2" y2="396" stroke="#3c3c3c" stroke-width="1.4"/>
<line x1="65" y1="396" x2="516.9" y2="396" stroke="#3c3c3c" stroke-width="1.4"/>
<line x1="58.3" y1="194" x2="64" y2="194" stroke="#333" stroke-width="1.3"/>
<text x="39.7" y="201.6" font-size="13.5" text-anchor="end" fill="#555" >10</text>
<text x="38.8" y="195.7" font-size="10.2" text-anchor="start" fill="#555" >0.0</text>
<text x="52.6" y="56.9" font-size="10" text-anchor="end" fill="#1a1a1a" >5</text>
<text x="52.6" y="77.9" font-size="10" text-anchor="end" fill="#1a1a1a" >4</text>
<text x="52.6" y="102.9" font-size="10" text-anchor="end" fill="#1a1a1a" >3</text>
<text x="52.6" y="138.1" font-size="10" text-anchor="end" fill="#1a1a1a" >2</text>
<text x="52.6" y="208.3" font-size="10" text-anchor="end" fill="#1a1a1a" >9</text>
<text x="52.6" y="218.9" font-size="10" text-anchor="end" fill="#1a1a1a" >8</text>
<text x="52.6" y="230.4" font-size="10" text-anchor="end" fill="#1a1a1a" >7</text>
<text x="52.6" y="244.1" font-size="10" text-anchor="end" fill="#1a1a1a" >6</text>
<text x="52.6" y="260.2" font-size="10" text-anchor="end" fill="#1a1a1a" >5</text>
<text x="52.6" y="280.1" font-size="10" text-anchor="end" fill="#1a1a1a" >4</text>
<text x="52.6" y="305.3" font-size="10" text-anchor="end" fill="#1a1a1a" >3</text>
<text x="52.6" y="340.6" font-size="10" text-anchor="end" fill="#1a1a1a" >2</text>
<text x="0" y="0" font-size="1" text-anchor="start" fill="#111" ></text>
<text transform="translate(12.9 194.2) rotate(-90)" font-size="13.1" text-anchor="middle" fill="#111">log ratio</text>
<line x1="101.8" y1="396" x2="101.8" y2="402.3" stroke="#555" stroke-width="1.4"/>
<text x="101.8" y="419.8" font-size="13" text-anchor="middle" fill="#444" >0</text>
<line x1="207.4" y1="396" x2="207.4" y2="402.3" stroke="#555" stroke-width="1.4"/>
<text x="207.4" y="419.8" font-size="13" text-anchor="middle" fill="#444" >100000</text>
<line x1="313" y1="396" x2="313" y2="402.3" stroke="#555" stroke-width="1.4"/>
<text x="313" y="419.8" font-size="13" text-anchor="middle" fill="#444" >200000</text>
<line x1="418.6" y1="396" x2="418.6" y2="402.3" stroke="#555" stroke-width="1.4"/>
<text x="418.6" y="419.8" font-size="13" text-anchor="middle" fill="#444" >300000</text>
<text x="291.5" y="474.2" font-size="19.6" text-anchor="middle" fill="#111" >CLL687</text>
<rect x="101" y="598.5" width="378" height="65.5" fill="#c9c9c9"/>
<path d="M171.8 583.7h0M302 592.3h0M353.7 582.9h0M152.2 595.6h0M126.8 594.4h0M290.8 584.3h0M353.1 591.1h0M253.8 591.2h0M205 584.5h0M398.5 584.7h0M158.8 589h0M385.5 592.7h0M439.8 583h0M381.4 585.1h0M346 583.6h0M151.4 588.2h0M366.6 590.3h0M205.4 598.7h0M328.9 585.1h0M204.7 597.4h0M186.2 598.6h0M356.2 580.8h0M403.6 595.3h0M365 598.7h0M417.3 595.9h0M103.3 589.9h0M154.2 596.6h0M124.2 593.8h0M310.6 585.5h0M116.9 585h0M143.6 597.3h0M338.7 595.6h0M226.5 591.3h0M183.9 585.9h0M180.6 584.6h0M406.1 592h0M113.5 586.3h0M112.7 592.6h0M261.4 598.8h0M338.9 587.7h0M321.9 594.6h0M294.5 590.9h0M187.1 583.9h0M476.4 585.6h0M463.5 595.8h0M472.8 598.7h0M281.7 598.2h0M272.7 588.7h0M368.4 593.6h0M230.5 597.7h0M253.5 596.5h0M175 587.4h0M296.1 593.9h0M176.3 588.2h0M176 596.7h0M312.7 588.2h0M467.9 587.1h0M458.6 582.4h0M373.7 587.8h0M125.6 597.5h0M106.9 584h0M373.5 589.9h0M201.2 595.4h0M163.5 589.9h0M474.8 596.1h0M118.6 597.8h0M235.6 583h0M404.5 593.6h0M140.4 598.5h0M159.9 586.3h0M279.2 580.3h0M444.8 585.8h0M281.1 585.1h0M150.2 598.5h0M313.8 592.6h0M180.7 596.9h0M110 582.7h0M369 581.6h0M470.7 594h0M377.4 594.9h0M407.3 584.6h0M152.3 599h0M182.5 590.9h0M244.5 599h0M414.2 586.1h0M276.4 598.9h0M436.3 592h0M128.7 595.9h0M336.8 583.4h0M284.2 589.7h0M179.4 597h0M442.6 594.9h0M141.1 590.8h0M149.5 597.6h0M273.6 590.9h0M341.3 588.1h0M267.3 598.7h0M374.4 598.8h0M279 594.6h0M355 587.9h0M192.2 589.5h0M362.2 593.3h0M155.3 582.7h0M327.3 598.8h0M191.7 580.4h0M188 594.7h0M398.3 585.1h0M340.3 587.2h0M116.4 598.6h0M469 585.6h0M116.3 598.8h0M192.4 582.1h0M184.6 588.9h0M451.8 589.7h0M447.6 596.8h0M159.7 599h0M386.7 598.5h0M467.9 588h0M172.3 585.5h0M163.2 592.5h0M141.8 586h0M436.5 582.5h0M102.9 584.3h0M311 585.1h0M290.9 590.2h0M325.6 585.7h0M131.2 598.8h0M307.1 596.4h0M251.3 599h0M382.1 599h0M414 585.4h0M274.2 598.3h0M346.4 597.5h0M263.3 598.4h0M469.1 591.8h0M234.6 598.6h0M376.5 584.4h0M421 598.5h0M240.2 596.2h0M388.7 598.1h0M330 580.6h0M391.1 599h0M130.2 598.4h0M362.4 590.6h0M297.6 593.6h0M255.2 590.4h0M345.9 582.5h0M377.5 585.8h0M445.2 584.7h0M371.5 598.9h0M358 584.4h0M264 583.6h0M169.6 581.7h0M268.1 588.1h0M197 596.2h0M233 595.9h0M137.6 593.8h0M470.8 589.4h0M452.5 586.7h0M416.6 580.2h0M385 596.6h0M195.9 594.4h0M109.9 597.2h0M435.2 582.3h0M225.6 586.5h0M393.4 583.2h0M400.8 592.1h0M141.4 585h0M219.9 590h0M240 592h0M465.1 598h0M301.6 589.5h0M304.4 581.9h0M255.2 582.6h0M361.4 581h0M135.7 597.4h0M210.1 582.8h0M107.1 596.8h0M371.1 580.3h0M168.3 593.9h0M360.3 588.5h0M382.5 586.9h0M195.4 596.8h0M112.4 588.5h0M180.7 596.8h0M464.6 589.6h0M324.3 589.3h0M326.8 588.4h0M216.3 598.8h0M127.2 599h0M237.9 598.2h0M144.4 592.9h0M466.5 588.6h0M204.8 586.5h0M168.9 598.5h0M216 594.5h0M361.3 593.8h0M375.8 598.6h0M452.5 595.6h0M414.9 598.9h0M413.6 597.2h0M423.5 585.6h0M354.2 596.6h0M105.7 597.7h0M442.2 598h0M349.9 590.9h0M350.6 597.8h0M156 598.5h0M471.5 594.9h0M347.2 591.3h0M185.9 598.8h0M107.6 584.3h0M150.9 581.1h0M238.7 587.7h0M154 586h0M196.6 595.2h0M298.7 598.4h0M195.4 585.8h0M209.3 594.9h0M389.6 597.3h0M174.9 597.3h0M246.5 595.2h0M343.2 593.3h0M429 598.8h0M351.5 584.7h0M190.3 598.9h0M266.8 598.4h0M274.9 588h0M137.2 598.4h0M282.3 597.8h0M188.8 593.9h0M146.5 598.7h0M237.8 593.3h0M454.2 591.6h0M128.9 597.3h0M381.8 591.4h0M429.2 581.1h0M424.6 598.4h0M456.8 592.2h0M192.1 597.9h0M427.1 597.4h0M133.2 596.7h0M449.5 593.5h0M377 598.7h0M272.3 596h0M179.2 589.2h0M237.8 598.4h0M472.1 593.1h0M169.7 599h0M347.5 592.4h0M111.2 593.3h0M380.4 592h0M190 592.8h0M329.5 589.4h0M156.5 585.6h0M457.5 587.3h0M424.4 595.2h0M441.4 597.8h0M187.3 590.7h0M441 598.7h0M183.6 598.9h0M267.1 598.2h0M174 587h0M321.3 581.8h0M253.1 588.8h0M106.7 581.5h0M189.6 593.2h0M294.4 581.5h0M287 580.2h0M335.6 597.4h0M415.6 597.5h0M477.8 593.6h0M187.1 581.2h0M223 594.5h0M231 589h0M110.6 595.1h0M162.9 585h0M102.1 590.4h0M199 593.6h0M313.3 588h0M153.8 597.1h0M147.3 581.2h0M158.1 598.2h0M298.3 591h0M435.3 598.8h0M190.1 597.9h0M322.2 593.7h0M255.8 583.3h0M350.8 584.1h0M461.8 596.7h0M456.2 594.5h0M121.4 582.5h0M141.1 599h0M210.9 596.4h0M465.6 583.8h0M260 592.1h0M421.2 585.5h0M347.7 592.5h0M145.8 597h0M349.5 590.9h0M403.2 583h0M463.9 597.6h0M130.6 583h0M316.4 597.8h0M362.2 596.9h0M190.9 595.2h0M299 588.8h0M129.6 587.2h0M336.7 593.3h0M354.7 585.7h0M105.6 593.2h0M356.9 588h0M345.5 597.8h0M462.4 586.1h0M189.6 594.1h0M462.2 597.5h0M255.8 581.2h0M440.4 597.2h0M378.5 595.3h0M351.4 586.6h0M150 597.3h0M182.8 596.7h0M115.4 598.2h0M254.7 594.2h0M131.3 591h0M456.3 591.1h0M235.7 588.2h0M266.4 597.8h0M283.1 599h0M356.2 598h0M241 581.1h0M390.3 584.7h0M343.4 589.8h0M367 581h0M175.8 586.6h0M215.1 596.9h0M410.9 590.6h0M421.5 583.7h0M323.4 597.6h0M107.6 592h0M374.8 596.6h0M128.3 599h0M167.1 588.4h0M103.5 597.2h0M201.7 588h0M473.2 599h0M144.9 581.9h0M466.7 598.1h0M228.1 592.3h0M222.4 594.3h0M282 596.8h0M122.7 598.6h0M163.1 598.6h0M336.6 588.3h0M200.9 585.9h0M376 595.6h0M286.9 597.7h0M451.3 591.5h0M121.3 598h0M362.4 594.9h0M371.6 597.2h0M401.7 585.7h0M137.4 590.9h0M173.9 588.1h0M404.3 585.9h0M188.9 598.6h0M351.5 591.4h0M154 597.6h0M321 598.5h0M340.4 597.1h0M199.2 594.2h0M302.5 587.7h0M113.6 587.7h0M185.1 596.4h0M342.6 588.5h0M333.1 582.9h0M178.9 596.1h0M351.1 596.8h0M161.2 597.2h0M392 585h0M371.3 581.2h0M400.7 596.1h0M220.6 587.7h0M122.9 590.4h0M135.5 598.8h0M295.2 598.1h0M452.3 583.6h0M275.6 597.6h0M147 592.6h0M298 595.2h0M371.3 592.1h0M393.6 598.5h0M128.3 594.8h0M283.8 596.9h0M353.4 597.3h0M221.7 593.2h0M369.8 586.5h0M241.7 593.8h0M450.8 582h0M334.6 598.5h0M273.4 589.8h0M206.8 598.9h0M470.9 582.7h0M150.5 593.4h0M334.9 596.2h0M127.8 587h0M391.8 593.9h0M134.2 594.7h0M137.4 581.1h0M121.3 596.4h0M390.7 598.2h0M142.1 598.7h0M163.7 592.1h0M415.2 597.9h0M167.3 586.6h0M262.1 595.6h0M148.3 597h0M467.4 598.4h0M199.6 587.2h0M437.3 582.8h0M279.8 581.3h0M329.1 596.4h0M276.9 587.9h0M378 598.3h0M174.8 581.3h0M142.2 585.3h0M229.4 597h0M197.9 593.3h0M474.5 598.1h0M423.3 595.9h0M167 587.1h0M230.4 597.7h0M259.3 585.1h0M426.5 591.2h0M105.9 586.7h0M330.1 583h0M460 595.8h0M421 585.2h0M202 595.2h0M242.9 595.4h0M244.2 598.4h0M187.4 582.7h0M256.4 589.8h0M435.6 586.9h0M193.9 582.4h0M404.4 580.3h0M375.8 586.9h0M407.7 596.9h0M348.6 594.9h0M417.7 598.2h0M304.7 595.7h0M410.5 595.5h0M419.3 584.4h0M432.4 598.2h0M454.8 587.2h0M356.5 589.4h0M120 583.8h0M308 593.6h0M229.6 586.2h0M396.1 583.8h0M182.5 595.6h0M195.8 598.5h0M225 598.9h0M401.5 597.2h0M128.6 598.7h0M380.7 597.6h0M275.7 594.6h0M403.7 581.4h0M218.5 589.9h0M438.4 593.3h0M440.3 587.4h0M219.1 583.7h0M317.5 598.5h0M322.9 584.9h0M297 593h0M258.6 583.5h0M352.2 597.5h0M238.2 595.2h0M462.5 588.4h0M148.9 582.5h0M115.1 590.8h0M264.6 587.8h0M263.4 598.6h0M298.9 585.2h0M398.6 595.4h0M185.6 587.1h0M403.4 597.3h0M434 580.2h0M265 594.9h0M368.9 582.1h0M177.8 596.2h0M225.7 587.5h0M172.2 591.8h0M290.1 589h0M155.9 581.3h0M478 591.5h0M401 597.7h0M444.2 591.7h0M387.6 583.8h0M238 582.3h0M180 599h0M290.9 583h0M440.6 581.4h0M294.1 582h0M312.5 598.1h0M339.3 585.6h0M261.4 590.6h0M199.4 596.6h0M260 592.5h0M278.1 598.6h0M104.1 595.6h0M371.6 587.1h0M191.1 596.9h0M296.3 597.8h0M328.7 582.8h0M178 590.9h0M373 587h0M369.7 588h0M204.5 584.7h0M449.8 598.8h0M457 593.8h0M134.5 598.7h0M401.6 588.8h0M155.4 593.5h0M342.2 580.1h0M228.4 586.6h0M194.2 597.6h0M162.6 594.4h0M334.4 596.2h0M162.9 597.3h0M134 597.6h0M220.7 592.6h0M171 593.1h0M267.4 580.8h0M284.8 581.6h0M279.3 597.6h0M324.6 598.1h0M165.6 598.7h0M365.7 581h0M253.7 595.4h0M261.9 595.4h0M361.7 594.8h0M159.3 584h0M317.3 599h0M421.4 587.6h0M235.3 589.9h0M448 594.6h0M264.6 596.3h0M310.4 589.2h0M378.4 581.5h0M156.6 595.2h0M422.2 585.9h0M323.8 588.8h0M229.9 581.6h0M308.6 594.6h0M170.6 598.4h0M439.5 585.7h0M112.1 595.9h0M282.3 592.8h0M238.7 583.1h0M233.5 592.1h0M451.4 589.7h0M281.3 595.7h0M247.6 590.4h0M397.5 596.8h0M241.3 594.8h0M238.4 582.6h0M304.6 596.6h0M227 585.1h0M162.2 588.5h0M110.2 597.6h0M124.4 585.6h0M157.2 597.2h0M123.7 596.7h0M377.8 587.8h0M444.3 581.6h0M309.1 582.3h0M135.7 582.2h0M265.2 597.6h0M383.3 584.1h0M247 598.6h0M430.2 586.9h0M326.5 580.7h0M116.3 598.8h0M148.7 599h0M368.3 589.9h0M144.2 598h0M170 590.4h0M354.9 580.9h0M237.6 580.6h0M265.4 594.8h0M197.2 597.2h0M468.5 580.2h0M367.4 597.8h0M169.6 598.1h0M234 587.3h0M124.2 592.1h0M357.9 598.9h0M267.3 585.9h0M318.5 593.7h0M433.4 590.6h0M228.7 594.7h0M456.7 584.1h0M446 591.5h0M155.6 597.8h0M246.1 588.5h0M103.7 585.6h0M397.5 592.4h0M104.1 585.8h0M257.7 589h0M316.3 587.6h0M255.7 581.2h0M461.3 582.1h0M333.3 596h0M243.6 596.7h0M441.8 585.9h0M398.3 585.1h0M474.5 588.6h0M221.7 586.8h0M200.6 590.4h0M161.6 584.1h0M285.8 596.6h0M449 598.6h0M451.8 586.8h0M158.1 586.7h0M317.6 582.7h0M322.5 594.1h0M452.9 598.6h0M394.2 598.5h0M206 598.4h0M429.6 593.9h0M375.1 596.8h0M376.6 589.5h0M138.7 592.9h0M373.4 597.4h0M348 596.6h0M241.3 582.4h0M456.6 580.1h0M262.5 591.2h0M406 586.8h0M273.5 584h0M252.9 581.5h0M279.8 598.4h0M383.7 598.1h0M357.5 598.8h0M473.6 591.9h0M380.4 598.3h0M341.5 595h0M195.7 585.3h0M114.5 593.2h0M134.7 584.3h0M437.9 598.9h0M276.7 593.3h0M372.2 587.5h0M231.1 582h0M171.7 598.2h0M408.3 598.4h0M171.9 592.7h0M228.5 597.9h0M451.6 593.2h0M397.5 596.9h0M445.1 597.3h0M442.8 590.3h0M467.1 586.5h0M339.2 592.1h0M423.4 593.8h0M139 582.6h0M404.9 588.7h0M382 597.2h0M276.2 585.1h0M463.7 582.3h0M162.3 588.7h0M310.3 594.5h0M165.1 598.2h0M278.8 592.9h0M202.7 595.2h0M310.3 586.7h0M323.6 598h0M435.2 595.2h0M462.9 580.6h0M154.8 591h0M465.5 594.9h0M307.9 596h0M112.8 597.5h0M148.6 596.5h0M338.7 591.4h0M458.5 588.6h0M238.2 581.5h0M340.4 591.8h0M426.3 589h0M237.5 590.5h0M214.9 580.9h0M193.8 580.8h0M126.2 599h0M310 597.5h0M292.8 598.4h0M416.7 589h0M359.3 582.2h0M475 588.8h0M370.2 599h0M120.5 594.1h0M466.4 596h0M315.7 599h0M258.3 582.9h0M323.7 585.1h0M106.9 597.5h0M169.4 584.8h0M140.2 582h0M202.6 583.5h0M295.9 595.9h0M465.4 594.5h0M364.2 598.7h0M414.2 580.6h0M143.5 587.1h0M203.7 598.1h0M238.9 589.2h0M460.5 580.2h0M475.6 590.1h0M347.7 598h0M375 591.7h0M237 582.9h0M197.9 598.2h0M161.5 598.1h0M323.3 585.7h0M162.2 592.7h0M318 591.5h0M257.2 591.8h0M107.7 598.8h0M260.9 597.1h0M386.6 597h0M411.8 597h0M136.8 593.2h0M247.7 595.7h0M389.7 597.3h0M353.9 584.8h0M272.2 592.7h0M449.3 590.5h0M170 598.7h0M132.9 595.8h0M135.4 589.5h0M261.3 596.1h0M294.6 581.9h0M193.9 598h0M216.8 595.9h0M444.1 588.1h0M263.2 597.9h0M119.1 598.3h0M420.7 589.5h0M160.9 590h0M124 592.6h0M228.1 598.5h0M381.2 587.8h0M294 597.9h0M353.8 594h0M350.6 598.6h0M441.4 599h0M185.7 594.6h0M176.6 598.6h0M360.5 580.2h0M227.9 596.7h0M354.2 597.3h0M252.7 588.5h0M263.9 598h0M128.5 591.8h0M474.5 582.4h0M139.6 592.7h0M285.7 597.6h0M353.9 592.8h0M406.1 596.4h0M453.1 585.3h0M280 598.2h0M283.9 598.3h0M359.8 588.3h0M319.4 580.7h0M119 587.9h0M403.1 598.4h0M223.1 598.8h0M321.2 587.7h0M232.8 588.4h0M239.9 588h0M206.1 580.7h0M266.7 599h0M136.4 587.6h0M427.1 589.8h0M160.4 583.7h0M371.5 598.4h0M245.1 589h0M103.4 598.9h0M235 583.7h0M476.6 596h0M443.7 586.1h0M427.3 590.9h0M466.5 589.6h0M458.4 591.4h0M175.9 592.4h0M283.6 595.7h0M242.5 592.5h0M323.1 597.3h0M206.3 592.7h0M291.5 594.3h0M351.7 597.7h0M302 596.6h0M391.5 588.2h0M395.7 592.4h0M195.6 582.2h0M294.1 595h0M211.2 594.6h0M368.5 585.2h0M283.4 587.5h0M182.1 593.7h0M236.6 596.1h0M237.2 586.9h0M377.7 597.5h0M189.9 586.1h0M348.1 588.8h0M340.8 588.4h0M204.6 598.8h0M237.6 598.9h0M463.7 592.2h0M354 581h0M404.5 597.2h0M228.7 598.5h0M401.2 587.3h0M285.4 595.1h0M203.5 593h0M369.7 583.1h0M421.2 583.9h0M267.2 594.2h0M220.1 580.8h0M170.9 598h0M207.6 582.3h0M422.6 595.8h0M422.2 583.2h0M262.6 597.6h0M392.5 595.1h0M146.9 582.9h0M267.3 594.7h0M325.8 596.9h0M109.6 594.8h0M244.6 599h0M241.8 586.7h0M227.2 588.8h0M336.8 597.7h0M109.7 588.9h0M331.7 596.3h0M177.3 584.2h0M443.9 597.1h0M322.3 591.2h0M223.1 598.9h0M224.3 589.6h0M328.3 592.5h0M148 597.4h0M219.1 594.3h0M238.6 582.9h0M145.6 580.4h0M192.4 584.2h0M193.6 590.9h0M243.8 598.9h0M401.4 585.4h0M203.2 586.3h0M282.2 580.4h0M122.4 595h0M187.7 590h0M394.5 584.6h0M308.2 594.8h0M402.7 598.5h0M199.8 586.9h0M267.6 580.2h0M136.2 593.5h0M181.9 599h0M137.2 598.6h0M240.7 594h0M292.9 596.4h0M365.9 592.4h0M471.2 597.9h0M294 592.9h0M241.8 584h0M180.8 583.6h0M236.5 595.7h0M333.2 591.4h0M208.8 598.6h0M461.2 595.1h0M145 589.3h0M302 595.8h0M225.5 584.5h0M229.3 594.3h0M461.8 595.3h0M253.2 598h0M351.1 589.1h0M269.8 594.5h0M189.5 586h0M273.9 584.8h0M243 587.4h0M112.8 597.3h0M463.2 588.7h0M356.1 592.8h0M279.6 597.6h0M167 589.6h0M362.9 596.8h0M344.4 598.2h0M332.5 597.9h0M293.6 596h0M309 598.2h0M283.8 590.2h0M152.7 596.1h0M357.2 591.8h0M333.9 586.2h0M316.9 597.3h0M268.4 584.9h0M315.1 586.9h0M238.9 593.7h0M466.6 585.1h0M347.5 598.5h0M332.1 598.9h0M453.2 580.8h0M375.8 596.7h0M420 597.8h0M413.3 592.3h0M107.9 583.2h0M267.5 584.9h0M360.9 592.1h0M426.3 597.5h0M439.9 595.6h0M111.8 595.7h0M126.8 598.7h0M336.7 598.4h0M162 596.3h0M206.8 582.4h0M442.4 583.8h0M474.2 593.9h0M401.2 596.5h0M450.4 585.4h0M377.3 597.2h0M136.4 582.2h0M309.6 590.3h0M426.1 598.1h0M364.9 593.4h0M397.6 593.6h0M176 581.3h0M207.7 587.1h0M414.5 597h0M363.3 594.7h0M186.3 597.3h0M460.7 595.2h0M293.7 592.7h0M112 586.9h0M382.2 583.6h0M236.2 597.4h0M232.6 587.5h0M349.4 594.5h0M299.3 598h0M447.4 593.3h0M292.6 586h0M176.4 587.7h0M234.8 585.4h0M137.5 596.6h0M341 593.1h0M243.7 591.1h0M183.9 593.9h0M102.7 585.7h0M197.5 584.9h0M309.6 590.6h0M337.4 598.3h0M394.2 596.3h0M426.4 586.1h0M357 585.3h0M266.2 588.9h0M460.3 597.7h0M139.9 594.4h0M293.6 598.1h0M185.2 583.9h0M247.9 598.1h0M170.8 591.1h0M173.4 593.2h0M304.2 593.9h0M291.4 584.7h0M108.3 582.1h0M176.9 598.9h0M390.6 591.3h0M304.3 597.3h0M395.7 596.1h0M375.3 597.2h0M317.4 589.5h0M241.7 593.1h0M126.5 589.6h0M361.9 598.1h0M309.1 587.4h0M140 584.7h0M429.3 598.8h0M195.4 598.6h0M197 598.6h0M286 596.9h0M214.8 593.5h0M241.7 586h0M373.7 598.4h0M186 599h0M225.8 598.5h0M364.1 586.2h0M476.4 597.4h0M115.8 586.8h0M256.8 582.1h0M249.6 596h0M129.3 581.6h0M294.6 593.9h0M266.3 586.5h0M414.4 593.2h0M169 594.5h0M437.1 594.5h0M350.5 591.5h0M275.5 591.2h0M194.2 591.5h0M427.1 598.7h0M240.7 583.5h0M469.8 599h0M337.8 589.9h0M419 593.3h0M151.2 596.2h0M370 587.6h0M178.9 589.6h0M348.9 589.3h0M110.2 593.9h0M224.2 590.7h0M228.6 598.3h0M354.1 596.4h0M399.3 596.1h0M307.2 585.5h0M145.5 587.5h0M127.6 581.9h0M111.5 587.7h0M240.6 597.8h0M250.5 592.7h0M258 598.3h0M298.6 596.2h0M465.7 594.9h0M265.7 597.2h0M466.3 595.9h0M345 584.8h0M249.8 586.9h0M206.8 598.4h0M117.9 593.7h0M430.6 597.5h0M267.6 586.7h0M205.8 598.1h0M297.2 594.2h0M454.9 583h0M191.5 591.5h0M258.5 598.9h0M269.1 582.5h0M215.8 590.9h0M369.1 598.8h0M449.5 598.5h0M215.4 587.9h0M109.3 595h0M149.6 593.3h0M107.9 598.1h0M185.6 598.7h0M136 597.6h0M296.6 598.2h0M410.7 594.3h0M196.7 597.1h0M417.7 598.9h0M381.1 598.5h0M457.2 594.5h0M326.7 584h0M139.8 598.8h0M362.8 590.9h0M373.1 596.6h0M288.8 597.7h0M266.3 596.5h0M322.2 596.2h0M205.3 589.6h0M134.2 585.7h0M288.4 597.2h0M145.2 592.6h0M291.5 587.8h0M242.6 594.4h0M437.6 596.6h0M470.9 583.2h0M474.3 581.7h0M198.7 585.3h0M332.1 597.5h0M477.1 589.5h0M406.4 591.5h0M131.9 584h0M168 596.8h0M333.7 597.6h0M275.9 587.9h0M138.1 589.2h0M141.3 593.2h0M346.2 588.6h0M118.2 597.7h0M463 594.8h0M261.7 595.1h0M363.8 587.3h0M346.5 594.6h0M316.1 592.4h0M172.7 581.5h0M464.8 586.3h0M475.2 593.4h0M417.5 597.1h0M381.3 587.9h0M454.9 584.8h0M432.6 596.7h0M398.1 593.2h0M219.5 595.2h0M402.4 584.5h0M419.6 589h0M166 598h0M315.6 597.4h0M228.5 598.5h0M160.2 587.8h0M186.1 584.4h0M225.7 584.4h0M215.8 596.7h0M250.5 599h0M265.8 595h0M106.8 584h0M243.1 599h0M463.1 597.2h0M197.1 599h0M139.4 588h0M320.8 592.7h0M194.6 596.4h0M466.8 595.1h0M474 583.3h0M148.9 584.4h0M109.9 588h0M406.4 588.4h0M308.7 585.4h0M160 591.9h0M202 594.6h0M173.9 588.1h0M317.5 586.3h0M338.2 590.6h0M448.6 585.4h0M315.1 595.8h0M450.9 595.1h0M140.4 595.7h0M367.6 582h0M344.8 589.2h0M454.4 586.3h0M269.5 593.5h0M387.6 596h0M143.3 590.2h0M406.2 597h0M359.1 583.2h0M150 598.2h0M287.4 595.7h0M459 580.1h0M269.6 585.9h0M339.5 597.8h0M467.4 597.8h0M130.6 593.7h0M108.7 593.1h0M256.9 581.4h0M257.5 584.4h0M395.2 590.9h0M191.4 596.2h0M286.8 594.7h0M344.7 592.6h0M223.5 590.5h0M476.7 597.5h0M228.2 599h0M137.3 598.8h0M261 584.7h0M364.3 581h0M416.7 590.9h0M320.2 599h0M246.2 596.8h0M335.4 598.8h0M305.9 595h0M287 594.5h0M140.4 587.5h0M402.9 590.7h0M145.5 590.6h0M429.5 580.4h0M387.2 598.9h0M432.3 589.1h0M206 582.4h0M412.6 583.1h0M195.1 591.1h0M244.5 596.3h0M388.2 590.2h0M226.8 591.8h0M451.1 591.3h0M445.5 591.4h0M475.1 598.9h0M275 591.7h0M375.3 580.9h0M336.4 593.2h0M340.5 592h0M367.1 581.6h0M107.2 595.9h0M431.5 598.8h0M399.1 598.9h0M345.7 585.7h0M191.5 594.9h0M187.1 588.1h0M300.8 590.5h0M224.4 590.9h0M460.9 586.3h0M459.9 597h0M296 594.9h0M232.1 585.6h0M167.8 591.5h0M393 581.9h0M109 596.7h0M287.4 581.9h0M163.4 584.6h0M251.3 591.7h0M450.9 598.8h0M225.9 598h0M152.3 596.2h0M365.5 591h0M147.8 585.7h0M292.7 598.2h0M410.5 585.1h0M183.5 581.8h0M406.7 597.2h0M102.4 583.9h0M412.6 598.5h0M390.2 586.4h0M340.3 584.8h0M472.3 595.8h0M415.6 582.3h0M219.9 588.7h0M359.3 584.4h0M315.1 596.6h0M196.6 591.9h0M152.9 584.1h0M436.3 597h0M364.2 588.9h0M147.8 586.3h0M390.1 596.1h0M138.9 596.5h0M392.1 593.4h0M408.6 598h0M142 595.5h0M432.8 598h0M129.6 586.9h0M136.3 589h0M133.4 597h0M351.5 583.7h0M255.9 593.7h0M113.7 595.6h0M193 586h0M370.6 586.1h0M301.9 588.3h0M149.8 594.9h0M212.1 596.5h0M379.9 597.4h0M224.3 596.5h0M426.9 589.7h0M282.7 595h0M448.5 581.8h0M271.1 591.3h0M426.3 596.8h0M199.2 598.5h0M290.7 586.5h0M160.9 594h0M474.5 593.1h0M245.8 584.6h0M437.4 595h0M148.4 589.8h0M380.4 582.3h0M350.2 596.1h0M295.6 596.4h0M269.7 593.4h0M445 582.8h0M450.3 593.2h0M464.6 598.2h0M448.3 589.7h0M430.1 594.4h0M474.6 598.9h0M420.8 585.2h0M242.7 584.9h0M182.3 586.9h0M278.1 594.4h0M175.9 585.7h0M376.8 598.6h0M469.7 597.3h0M243.1 594.4h0M318.8 583.2h0M457.4 589.9h0M239.5 598.5h0M127.9 592.4h0M321.3 593.8h0M471.4 594.4h0M234 594.3h0M166.6 581.8h0M324.2 591.9h0M262.1 596.9h0M220.6 592.9h0M269.8 580.6h0M313.7 597.5h0M122.2 598h0M232 586.2h0M436.3 597.1h0M395.4 593.9h0M304.1 592.1h0M118 598.8h0M353 588.5h0M245 582.4h0M410.3 596.2h0M127.2 591.6h0M348 597.3h0M118.5 593h0M114.9 587.3h0M337.2 596.5h0M269.6 597.2h0M171.9 597.8h0M408.7 593.6h0M371 595.5h0M405.4 590.7h0M347.9 594.7h0M313.2 597.7h0M468.1 588.9h0M302.2 589.7h0M139.7 595.7h0M188.7 584.5h0M106.8 593.8h0M428.6 586.2h0M372.3 596.2h0M189.3 588.2h0M214.3 587.7h0M233.6 586.7h0M317.5 585.3h0M472.6 595h0M472.9 599h0M431.9 598.9h0M307 594.8h0M391.5 596h0M180.3 586.1h0M308.9 586.9h0M286 598.9h0M392 597.3h0M279.4 599h0M199.4 589.1h0M389.3 589.8h0M268.7 587.4h0M353.5 597.5h0M303.2 590.7h0M376 597.6h0M218.8 595.6h0M138.1 595.5h0M376.3 591.1h0M167 587.5h0M145.9 587h0M157.5 598.5h0M196.6 592.4h0M203.5 583.4h0M454.8 596.5h0M384 588.4h0M313 596.9h0M459 581.3h0M106.9 595.8h0M222.7 597.6h0M263.8 583h0M111 584.7h0M218.2 599h0M440.3 596.6h0M181.8 598.4h0M240.1 598.4h0M169.6 596.9h0M319.5 593.8h0M216.7 592.2h0M393.1 587.7h0M231.2 582.4h0M399.5 591.4h0M280.8 595.8h0M152.4 583.4h0M330.7 598.5h0M450 583.3h0M114.6 588.2h0M191.6 592h0M415.7 595.4h0M289.4 589.1h0M174.3 590h0M261.9 580.5h0M172.6 588h0M117.5 596.6h0M146.3 598.1h0M300.6 597.8h0M400.8 598.6h0M336.2 584h0M149.6 597.3h0M389.6 593.3h0M452.5 595.7h0M251.6 581.3h0M231.3 581h0M437 597.5h0M307.2 581.8h0M146.1 584.4h0M393.1 587h0M327.9 598.5h0M462.4 598.5h0M396.6 587.7h0M221.3 588.6h0M256.4 587h0M118.3 582h0M246.6 585.6h0M279.3 585.4h0M215.2 591.8h0M111.5 592.9h0M131.8 584.1h0M356.7 594.2h0M468.3 581.6h0M461.7 598.6h0M366.7 587.6h0M329.8 599h0M449.4 593.9h0M325.7 585.3h0M205.5 598.9h0M449.2 596.7h0M117.5 598.2h0M476.1 587.3h0M180.9 598.1h0M439.5 589.1h0M321.2 598.3h0M257.4 581.6h0M103.2 594.3h0M123.4 580.1h0M141.2 581.4h0M418.3 587.5h0M117.9 588.4h0M287.4 592.9h0M156.6 592.5h0M403.6 598.3h0M431.4 594.3h0M202.1 597.1h0M274.9 589.5h0M316.3 583.2h0M294.3 592.5h0M473.8 597.4h0M108.2 595.8h0M219.8 598.3h0M259.2 598.9h0M448.2 593h0M432.4 588.3h0M376.4 586.8h0M215.4 587.5h0M179.5 591.6h0M325.8 586.3h0M165.1 595.6h0M411.9 585.6h0M469.7 598.4h0M181 598.5h0M374.1 587.1h0M345.7 586.2h0M296 591.4h0M448.3 589.5h0M348.7 590.9h0M287.7 586.8h0M317.3 598.3h0M262.1 594.2h0M264.5 591.5h0M238 594.8h0M262.5 595.1h0M467.4 598.6h0M108.4 587.7h0M250.6 593.7h0M324.5 595.2h0M191.9 599h0M430.6 581.8h0M209.5 593.4h0M223.8 598.8h0M437.6 584.7h0M192.6 596.9h0M364.5 585.8h0M278.6 594.8h0M189.8 585.8h0M426.7 584.1h0M145 590.7h0M472.4 587.9h0M274.7 598.1h0M124.7 587.5h0M127.8 585.5h0M352.3 593.3h0M437.2 582h0M333.8 598.5h0M323.3 594.2h0M195.8 582.1h0M376.6 598.3h0M188.1 595.6h0M317.4 595.9h0M267.3 585.3h0M170.3 587.8h0M226.3 581.7h0M459.9 595.8h0M329.9 598.4h0M256.3 590.1h0M341.9 595.6h0M114.8 598.3h0M312.7 597.9h0M217.1 590.2h0M440.7 592.4h0M197.8 590.9h0M205.6 586.2h0M160.7 596.8h0M266.9 582.7h0M164.2 597.6h0M151.5 597.4h0M226.9 594.7h0M387.6 594.5h0M280.6 594.7h0M393.1 582.9h0M262 582.3h0M196.2 580.7h0M299.5 588.7h0M245.4 596.6h0M152.8 583.4h0M237.2 588.3h0M275.2 592.2h0M179.8 597.8h0M228.4 588.7h0M306.3 599h0M369.3 594h0M127.9 596.8h0M181.6 585.1h0M308.8 595.8h0M195.5 596.4h0M207.3 595.5h0M399.3 586h0M364.5 583.4h0M347.9 598.4h0M118.7 597.9h0M199 592.2h0M411.1 590.9h0M263.6 597h0M471.1 586.9h0M230.3 598.9h0M471.2 596.9h0M420.7 598.4h0M347.6 595.4h0M436.2 596.3h0M139.9 597.6h0M404.9 580.6h0M343.7 588.7h0M208.1 596.6h0M134.6 580.5h0M118.3 590.3h0M233.6 597.7h0M265.9 582.1h0M195.2 597.9h0M338.7 589.3h0M294 597.8h0M430.7 598.4h0M167.5 597h0M295.2 593.2h0M310.2 587.6h0M438.2 593.4h0M117.8 584.9h0M108.9 596h0M155.8 590.6h0M396 598.3h0M212.7 584.3h0M361.1 598.5h0M360.1 585.9h0M255.6 598h0M349.8 595.9h0M152.3 597.9h0M253.3 598.3h0M246.8 591.7h0M309.6 594.5h0M402.9 598.6h0M226 582h0M427 582.3h0M389.7 592h0M398.1 591.2h0M146.2 596.9h0M138.6 583.7h0M223.1 594.5h0M304.4 598.5h0M367.4 585.8h0M401.3 583.5h0M221.3 598.1h0M388.4 588.4h0M241.7 595.6h0M159.8 584.8h0M275.2 585.4h0M229.7 595.9h0M295 587.1h0M433.9 595.4h0M362.7 594.5h0M425.9 586.8h0M310.8 595.3h0M204.9 583.4h0M403.1 596.2h0M133.8 597.6h0M464.5 598.9h0M406.6 592.1h0M310.3 591.9h0M256.3 591.5h0M135.8 582.4h0M140.7 598.2h0M354.9 589.7h0M405.3 588.4h0M451.9 598.8h0M106 597.1h0M394.9 598.1h0M301.8 586.5h0M160.8 592.2h0M440.7 587.1h0M251.6 593.1h0M206.5 581.2h0M396.3 588.7h0M216.4 587.5h0M285 585.8h0M238.8 583.5h0M359.4 593.7h0M313.6 585.6h0M301 581.2h0M104.7 583h0M370.5 592.9h0M421.6 598.1h0M229 587.9h0M411.6 595.1h0M475.8 589.5h0M119 598.3h0M130.7 591.3h0M223 596.8h0M270.3 598.7h0M443.7 584.7h0M312.1 593.8h0M218 590.5h0M232.4 580.7h0M461.5 587.6h0M412.6 598.7h0M148.5 595.5h0M149.4 594.2h0M472.8 584.8h0M462.5 597.3h0M185.4 599h0M204.9 598.8h0M300.6 596.2h0M355.3 591.5h0M326.6 596.2h0M378.3 588.5h0M370.6 593.3h0M276.4 596.4h0M117.1 593.4h0M333.7 597.7h0M425.4 583.5h0M422.9 585.3h0M285.6 597.8h0M203.9 587.3h0M472.2 598.4h0M104.4 595.4h0M233.3 590.7h0M144.2 584.5h0M229.1 582.7h0M225.8 596.2h0M168.1 581h0M323.6 585h0M125.7 591.8h0M377.6 580.5h0M454.2 598.5h0M242.3 580h0M303.1 581.3h0M197.3 598.9h0M457.8 596.7h0M312.8 595.3h0M319.2 582h0M458 583.6h0M198.5 585.1h0M108.9 594.3h0M457 596.9h0M240.1 591h0M191 588.1h0M347.3 598.6h0M448 598.7h0M363.9 595.5h0M156 598.7h0M477.2 585.7h0M274.5 585.8h0M466.6 582.2h0M302.2 596.6h0M297 580.6h0M376.6 589h0M418.9 594.5h0M312.2 584.4h0M176.9 584.1h0M111.3 592h0M318.1 598.1h0M448.7 593.9h0M171.6 594.4h0M324.4 594.1h0M103.1 598.6h0M370.2 598.3h0M198.1 585.5h0M426 583.5h0M167.6 599h0M385.6 590.6h0M239.1 599h0M264.2 597.1h0M323.1 580.6h0M180.7 598.7h0M363.1 598.5h0M185.8 593.9h0M472.8 595.9h0M220.8 593.2h0M163 594.6h0M365.3 595.9h0M401.4 597.7h0M140.2 590h0M272.3 582.4h0M141.5 587.1h0M353.9 595.1h0M150.2 590.3h0M387.1 593.3h0M279.7 588.6h0M331.1 594.2h0M172 593.4h0M308.7 583h0M476.1 591.6h0M225.5 597.3h0M339.1 587.3h0M195.2 588.5h0M477.7 594.8h0M455 594h0M347.2 583.9h0M178.5 595.5h0M472 598.8h0M217.1 593.2h0M382.1 589.9h0M451.6 589h0M102.6 598.7h0M115.8 594h0M112.2 592.2h0M339.9 597.5h0M423.9 594.4h0M462.9 595.3h0M335.1 591.9h0M200.9 586.2h0M103.5 596.9h0M222.6 583.5h0M290.2 598.9h0M214.4 590.4h0M406.1 598.5h0M395 594.8h0M299.1 594.2h0M266.8 580.3h0M447.6 582.4h0M378.6 588.3h0M155.2 598.9h0M414.4 588.9h0M339.1 596h0M202.4 582.3h0M302.1 599h0M230 595.5h0M127.4 580.7h0M441.5 585.3h0M103.6 594.3h0M144 587.6h0M406.3 586h0M399.7 598.4h0M107 598.6h0M418.7 584.9h0M296.1 597.1h0M424.2 598.4h0M224.2 599h0M471.6 594.3h0M391.9 585.7h0M320.5 580.4h0M393.2 582.2h0M464.2 598.7h0M384.2 597.2h0M224.1 595.6h0M473.7 598.8h0M265.5 598.3h0M477 592.8h0M365.9 592.3h0M390.5 595.7h0M257.5 587.2h0M366.2 583.3h0M218.3 584.4h0M379.2 591.2h0M255.5 591.3h0M130.9 598.5h0M219.1 598.3h0M120.3 587.8h0M377 590.3h0M179.4 587.7h0M412.5 590.2h0M187.5 591.4h0M250.4 596.7h0M157.9 583.9h0M339.7 582h0M166.7 596.7h0M293.5 598.8h0M215.6 591.9h0M283.2 582.7h0M319.1 589.8h0M322 586.1h0M239.8 599h0M470.7 585.9h0M149.6 598.4h0M185.6 589.3h0M151.3 599h0M287.8 599h0M199.4 594.9h0M179.2 599h0M199.8 597h0M223.9 594.4h0M237.3 595.9h0M109.2 584.7h0M379.6 592.9h0M103.1 597.1h0M440.6 593.6h0M179.2 585.2h0M437.2 598.3h0M290.4 591.5h0M146.1 595.9h0M334.5 588.9h0M338.3 590.2h0M244.1 598.7h0M108.1 584.7h0M427.2 582.8h0M130.6 586.5h0M166.6 595.5h0M177.3 584.1h0M410 584.8h0M245.4 581.9h0M199.8 591.2h0M355.2 597.1h0M245.5 598.5h0M401.5 597.7h0M153.1 596.6h0M342.7 589.8h0M299.3 584.3h0M384.9 597.4h0M303 597.9h0M192.9 598.1h0M131 595.5h0M435.3 589.3h0M135 597.3h0M324.4 592.1h0M112 598.6h0M314.8 590.6h0M132.2 586.4h0M192.4 590.8h0M301.2 595.6h0M457.8 594.7h0M261.1 591.9h0M417.7 580.4h0M391.4 591.9h0M371.5 589.7h0M462.7 580.9h0M387.8 597.4h0M315.8 593.9h0M188.9 586.2h0M185.2 588h0M286 594.1h0M367.7 587.6h0M474.1 580h0M402.8 596.7h0M353.6 592.8h0M455.6 593.8h0M236.4 598.9h0M278.8 592.1h0M217.9 598.5h0M284 598.7h0M166.6 593.8h0M232.9 592.7h0M301.3 594.8h0M152.2 599h0M312.3 580.9h0M207.8 595.4h0M222.1 587.2h0M287.5 585.8h0M104 598.2h0M179.5 595.1h0M252.2 594.9h0M465.1 593.9h0M318.4 581.1h0M343.4 590.7h0M413.4 595.7h0M115.5 581.3h0M302.9 591h0M127.1 587.1h0M242.5 589.6h0M208.6 582.4h0M240.7 596.6h0M438.1 597.3h0M203.9 593h0M470.8 598.4h0M181.1 585.8h0M130.3 594.4h0M396.4 587.9h0M400.2 598.4h0M436.6 595.3h0M408.1 593.3h0M437.1 593.2h0M198.9 598.1h0M288.7 598.8h0M163.7 583.7h0M317.8 584h0M158.7 593.1h0M278.2 598.5h0M201.1 582.3h0M374.1 592.6h0M331.2 584h0M460.6 590.7h0M120.9 583.7h0M163.9 597.1h0M153.5 592.5h0M321 593.5h0M278.7 598.2h0M372 592h0M218.2 584.8h0M455.1 582.3h0M472.3 598.7h0M248.1 593.7h0M198.5 587.2h0M442.3 598.2h0M292.3 581h0M436.2 593.7h0M141.4 593.6h0M296.6 586.1h0M172 596.5h0M472.2 599h0M331.7 598.6h0M384.2 594.2h0M450 597.3h0M431.9 597.2h0M119.9 598.6h0M130.6 594.8h0M467.5 595.4h0M371.5 598.9h0M296 591.9h0M138.8 591.1h0M269.7 595.8h0M414.2 588.5h0M147.3 598.5h0M121.7 596.8h0M341.4 580.9h0M466.3 583.9h0M148.8 585.9h0M388.6 593.3h0M476.4 590.6h0M146.5 597.4h0M150.8 590.4h0M336.7 584.1h0M105.9 599h0M467.7 596.8h0M201.3 583.9h0M143.9 585.9h0M439.2 591.4h0M330.8 599h0M330.1 590.3h0M391.9 592.4h0M144.8 597.3h0M347.6 598.7h0M142.2 596.9h0M401.4 591.8h0M236.2 581.1h0M320.5 597.1h0M314.6 584.2h0M240.6 594h0M319.1 580.4h0M342.1 597.8h0M320.8 595.9h0M280 587.9h0M109.6 592.6h0M220.1 590.6h0M410.6 593.4h0M338.8 596.4h0M198.3 592.5h0M302.2 597.3h0M389.7 592.7h0M235.7 596.9h0M416.6 582.9h0M454.7 597h0M128.8 589.9h0M111.3 584.2h0M357.3 595.7h0M268 588.7h0M162.2 595.2h0M397.8 588.7h0M322.1 598.5h0M183.6 596.8h0M113.8 589.7h0M317.4 582.2h0M310.5 582.4h0M278.3 592.4h0M207.8 593.4h0M454.2 593h0M102.8 595.4h0M176.4 590.1h0M293.5 593.2h0M450.6 586.7h0M134.8 598.9h0M365.5 590.7h0M347.3 592.7h0M115.5 593.7h0M416.1 590.6h0M118.6 598.3h0M442.2 591.8h0M163.9 588.1h0M449.7 583.9h0M344.6 585.5h0M134.9 593.4h0M406.7 595.6h0M156.1 583.9h0M366.9 599h0M125.9 591.5h0M460.7 590.2h0M431.4 598.5h0M318.6 597.8h0M226.8 598.1h0M276.4 598.9h0M348.9 589.5h0M442.2 586.5h0M130.4 583.8h0M306.1 581.9h0M287 598.7h0M366.7 597.9h0M472 591.9h0M441.3 592.9h0M224.7 589.2h0M368.9 593.5h0M205.6 594.3h0M370.7 597.2h0M161.4 593.1h0M349.4 598.8h0M204.1 580.9h0M202.4 586.4h0M216.9 598.6h0M284.8 583.8h0M394.2 598.9h0M366.5 590.1h0M283.4 589.1h0M298.2 597.7h0M363.5 598.3h0M218.5 584.3h0M315.6 592.5h0M368.9 592.9h0M246.4 591.7h0M110.4 595.4h0M116.8 580.1h0M443.4 589.4h0M161.5 584.2h0M208.4 585.6h0M346.8 590.5h0M380.8 596.7h0M415.7 591.9h0M386.7 584.6h0M197.7 594.4h0M238 598.7h0M431.2 588.6h0M286.2 591.8h0M432.8 598.7h0M236.6 588.6h0M303 592.8h0M199.3 597.3h0M354 595.6h0M454.5 582.9h0M466.8 596.6h0M295.4 598.5h0M237.1 598.7h0M290.6 581.3h0M388.7 595.2h0M205.9 582h0M121.8 584.5h0M423.8 598.7h0M459.6 589.6h0M248.2 594.2h0M330.8 592.2h0M428.3 583.1h0M224.8 599h0M394.8 589.5h0M348.3 598.7h0M130.5 583h0M238.8 593.3h0M468 597.6h0M340.8 598.8h0M313 587.3h0M161.2 586.8h0M466.2 585h0M399.3 581.6h0M371.5 591.8h0M412 585.5h0M338.5 589h0M169.1 595.6h0M224.4 584.1h0M395.8 596.4h0M475.7 598.8h0M125.2 595.8h0M131 581.5h0M236.9 594.8h0M423.4 592.1h0M339.1 593.9h0M275 581.3h0M206.3 592.2h0M281.9 598.2h0M157 592.6h0M402.3 594h0M124.2 581.9h0M153.7 583.4h0M119 589.5h0M156.9 596.8h0M260.5 586.9h0M265.6 594.3h0M253.3 592.3h0M207.6 581.4h0M173.6 598.3h0M308.3 595.4h0M373.2 598.9h0M356.4 595.2h0M450.6 596.2h0M264.8 596h0M302.6 596.5h0M353.8 594.4h0M368.3 596.4h0M273.7 591.5h0M372.2 589.4h0M263.3 598.6h0M144.2 598.1h0M171.1 597.7h0M350.9 595.6h0M443.4 597.1h0M194.4 597.7h0M156.3 588.7h0M319.5 596.9h0M406.7 588.9h0M263.2 590.4h0M348.9 593.9h0M136.5 595.2h0M457.7 595.1h0M342.2 598.6h0M393 584h0M242.3 595.1h0M294.9 596.9h0M180.9 598.3h0M360.3 592.5h0M461.5 581.1h0M430.7 581.7h0M417.2 598.9h0M150.7 580.7h0M430.5 590.3h0M335 594h0M261.7 598.1h0M308.1 596.6h0M147.8 583.8h0M318.1 583.6h0M212.5 591.1h0M206.1 584.9h0M180.6 589.5h0M310.6 595.8h0M132.1 593h0M298.7 585.2h0M178.4 597.7h0M216.9 585.6h0M189.3 589.8h0M114.1 598.7h0M368.3 592.8h0M144.4 593.3h0M455.6 594.8h0M311.5 594.3h0M292 598.9h0M434 591.1h0M232.5 596.5h0M172.3 582h0M418.2 595h0M328.8 591.6h0M177.3 598.9h0M378.5 598h0M314.4 599h0M110.2 597.9h0M347.7 590.3h0M474.7 589.2h0M298.3 599h0M462.2 593h0M424.6 598.9h0M416 593.2h0M183.5 594.5h0M130.2 591h0M184.4 588.2h0M167.3 588.5h0M334.2 588h0M459.4 596.3h0M358.8 594.7h0M438.1 585h0M389.1 590.6h0M200.3 582.7h0M466.3 581.5h0M229.2 585.1h0M357.3 584.6h0M403.6 593.6h0M250.6 585.8h0M348.1 591.9h0M430.5 598.9h0M107 593.4h0M138.6 584.6h0M135.1 583.5h0M186.6 598.2h0M385.4 588.8h0M256.3 590.7h0M309.9 581.5h0M292.8 591.9h0M275.7 594.4h0M361.4 598.4h0M362.3 582.1h0M388.2 591.8h0M234.9 598.5h0M136.7 591.9h0M432.9 583.9h0M170.9 587h0M405.5 593.1h0M424.7 597.7h0M228.2 592.4h0M375.2 593.7h0M215.6 583.9h0M249.4 594.3h0M186.1 593.1h0M367.5 595.3h0M351 592.9h0M106.5 581.1h0M210.3 591.8h0M462.5 597.5h0M126 597.5h0M159.5 584.3h0M296.5 598.9h0M204.1 592.5h0M167.6 596.1h0M442.1 593.8h0M189.7 590.7h0M144.4 592.3h0M345.6 598.6h0M308.2 596.1h0M382 590.3h0M444 590.4h0M170.8 597.7h0M366.6 585.4h0M125.5 594.3h0M208.4 593.4h0M430 591.5h0M381.8 586.6h0M206.4 590.2h0M243.1 593.2h0M301.5 589.1h0M165.3 584.7h0M162.5 596h0M421.3 580.4h0M239.9 581.4h0M116.1 581.3h0M177.6 598.9h0M388.5 598h0M384.8 599h0M148.6 595.3h0M133.7 593.3h0M232.1 587.3h0M287.3 581h0M419.2 597.9h0M446.9 583.1h0M314.4 592.2h0M165.9 595.9h0M184.8 597.6h0M332.9 595.9h0M390.6 591.2h0M413 598.6h0M420.5 592.6h0M339.7 597.1h0M363.7 594.5h0M373.3 591h0M154.7 596.2h0M384.7 599h0M339.6 591.8h0M370.7 595.8h0M281.3 593.2h0M383.7 598.7h0M293.8 596.8h0M323.6 596.8h0M179.5 597.2h0M438.5 595.2h0M432.9 587.4h0M203.1 591.6h0M105.3 582h0M339.2 598.4h0M297.1 592.8h0M354.2 596.4h0M444.1 590.1h0M129.3 585.2h0M434.6 596.2h0M369.5 584.1h0M433.6 598.7h0M416.7 597h0M403.5 588.6h0M277.1 582.9h0M404 580.2h0M462.5 591.2h0M378.3 589h0M252.5 592.8h0M292.9 597.4h0M200.2 584.5h0M420.1 588.3h0M360.9 592.5h0M317.5 589.1h0M104.8 593.8h0M466.6 597.5h0M277.8 598.7h0M197.9 585.1h0M114.3 585.7h0M402 583.8h0M198.7 582h0M241.8 593.7h0M459.5 591.8h0M358 598.4h0M103.8 596.7h0M141.7 585.1h0M195.9 581.3h0M357.1 597.6h0M369.2 596h0M300.1 598.7h0M415.1 586h0M320.4 588.5h0M229.8 598.3h0M224.3 587.3h0M313.7 598.2h0M192.5 593.2h0M107.4 598.9h0M271.1 598.2h0M436.2 598.3h0M383.7 585.8h0M220.6 591.9h0M475 590.2h0M247.6 580.7h0M199.6 581.3h0M218.5 594.2h0M220.7 589.4h0M433.8 588.5h0M170.4 580.3h0M373.8 592.6h0M421.5 598.5h0M326.9 586.1h0M394 588.9h0M125.5 593.2h0M203.1 590.4h0M251.2 593.6h0M304.3 590.9h0M436.8 596.5h0M205.3 597.7h0M144.3 584.4h0M447.7 598.3h0M237.5 582.8h0M426.8 580.7h0M475.2 596.2h0M127 596.9h0M290.9 599h0M197.4 593.3h0M358.3 598h0M148.3 595.8h0M136.2 598.3h0M140.8 585.7h0M432.6 598.9h0M404.5 584.5h0M346.7 596.2h0M410.3 598.7h0M119.5 581.4h0M185.2 582.5h0M385.6 598.9h0M137.5 589.5h0M156.9 589.1h0M354.8 597.2h0M281.2 597.4h0M429.6 589.9h0M361.8 590.1h0M124.9 583.3h0M395 592.4h0M324 592.9h0M386 592.1h0M206.4 592.4h0M182.3 599h0M297.8 583.8h0M372.5 597.4h0M293.1 591h0M319.8 593.5h0M293.5 588.5h0M433.3 592.4h0M396.8 588.7h0M147 596.8h0M219.9 595.4h0M286.7 596.3h0M477.2 587.4h0M241.6 588.3h0M449.7 598h0M338.6 581.2h0M243.1 583.6h0M404.2 595.9h0M156.3 585.5h0M258.2 595.5h0M276.4 587.6h0M438.2 582.5h0M390.2 597.8h0M240.8 599h0M177.4 595.6h0M168.6 593.2h0M151.6 589.4h0M256.6 597h0M359.9 595.8h0M111 584.7h0M385.5 583.6h0M212.5 596.7h0M363.8 598.1h0M465.4 589.4h0M308.2 598.8h0M208.5 594.2h0M470.7 598.1h0M324.5 598.7h0M467.2 587.1h0M407.5 587h0M169.6 597h0M116.8 591.7h0M132.5 597.7h0M167.5 582.4h0M398.9 596.4h0M467 598h0M154.8 594.9h0M404.9 598.5h0M398.6 591.8h0M402.2 595.7h0M117.8 598.5h0M373.9 592.6h0M389.2 597.6h0M207 597.4h0M421.9 588.2h0M160.2 587.6h0M116.6 593.4h0M198.7 586.6h0M372.2 588.7h0M176.2 598.9h0M342.7 588.4h0M105.5 584.7h0M439.4 595.3h0M297.2 589.4h0M450.1 589.5h0M295.9 586.5h0M286.2 598.9h0M307.8 594.4h0M228 594.7h0M185.2 596.1h0M382.9 583.4h0M273.6 584.5h0M149.2 592.4h0M381.9 586.2h0M247.6 597.9h0M463.2 590.4h0M347.6 595.5h0M144.5 591.3h0M254.2 583.2h0M351.4 586.9h0M316.2 586.9h0M152.4 580.1h0M320.4 590.7h0M173.3 598.6h0M367.2 587.6h0M352.7 596.9h0M285.1 586.5h0M342.9 582.7h0M135.6 586.4h0M107 590h0M302.8 598.7h0M259.5 589h0M428.1 598.7h0M293.6 585.8h0M145.9 583.2h0M455 595.6h0M180.5 598.1h0M184.6 594.3h0M367.9 581.9h0M312 581.4h0M262.5 589.3h0M102.1 594.3h0M110.6 598.3h0M406.1 598.4h0M214.7 592.2h0M299.5 598.9h0M143.5 588.8h0M254.2 598.6h0M281.9 595.1h0M477.8 598.9h0M169.8 598.7h0M309.3 581.2h0M394.4 598.4h0M304.9 595.3h0M469.5 588.1h0M329.2 596.8h0M266.2 592.2h0M244.4 591.4h0M135.9 594.2h0M473.1 594.6h0M292.2 586.9h0M407.4 587.4h0M245.3 588h0M177.1 590.2h0M108 597.6h0M167.8 595.4h0M379.5 599h0M431.5 598.6h0M459.3 581.5h0M333.1 584.6h0M455.8 593.7h0M423.8 598.9h0M395.6 589.5h0M394 598.1h0M133.3 592.3h0M330 588.6h0M169.3 591.3h0M466.3 596.9h0M410.2 581.2h0M355 593.9h0M259.3 593.4h0M148.9 598.7h0M207.2 597.8h0M440.2 595.3h0M431.2 591.4h0M439.6 583h0M369.4 593.7h0M193.6 591.4h0M219.2 584.9h0M118.1 589.8h0M229.5 594.3h0M305.9 580.5h0M475.6 595.3h0M462 581.3h0M299.8 591.4h0M176.3 586h0M284.5 586.7h0M448.6 590.1h0M363.3 591.7h0M151.3 593.5h0M125.5 597.8h0M470.7 595h0M152.8 594h0M124.6 590.5h0M187.8 597.3h0M341.5 582.2h0M107.1 587.9h0M320.8 593h0M260.4 599h0M234.3 592.3h0M228.1 580.2h0M229.9 584.5h0M406.8 585.9h0M287 592.7h0M419.2 598.4h0M186.5 599h0M286.8 593.6h0M461.4 582.1h0M254.6 592.8h0M141.5 586.9h0M297.2 597.9h0M431.7 598.9h0M174.4 593.2h0M476.9 598.2h0M202.2 585.9h0M228.4 582.1h0M109.1 597.1h0M218.5 584.4h0M140.4 588.9h0M435.4 580.8h0M405.1 598.8h0M283.6 597.3h0M147.8 597h0M378.4 591.2h0M151 596.4h0M126.8 582.2h0M385.6 593.3h0M463.5 580.7h0M179.7 596.9h0M173.9 590h0M325.7 592.4h0M393 592.1h0M220.3 589h0M458.9 598.8h0M284.8 598.2h0M382.9 594h0M417.4 589h0M462.7 591.1h0M326 580.8h0M404 595.7h0M140.9 582.3h0M125.9 582.3h0M452.9 589.2h0M458.8 590.4h0M382.4 590.7h0M185.6 598.7h0M381.4 593.7h0M148.9 591.5h0M201.6 596.8h0M431.4 590.2h0M383.3 585.3h0M266.2 593.7h0M264.5 595.3h0M394.7 583.4h0M214 588h0M183 599h0M359.6 586.3h0M226 580.2h0M372.4 595.9h0M387.8 584.5h0M154.7 582.6h0M265.3 596.6h0M244 592.1h0M300.2 596.3h0M124.6 589.9h0M371.8 588.4h0M251.1 584.1h0M108.5 598.3h0M108.9 591.6h0M298.7 597.2h0M299.6 599h0M115.6 581.1h0M435 598.7h0M348.6 592.6h0M304.4 584.6h0M343.1 581.8h0M358.3 582.5h0M145.8 585.1h0M222.2 582.3h0M399.6 581h0M386 594.8h0M298.9 586.2h0M123.8 591.9h0M315.6 587.8h0M230.6 590.5h0M378.8 594.9h0M358.3 582.8h0M240.9 592.2h0M284 584.7h0M203.5 596.4h0M249.6 589.4h0M160.1 580.6h0M291.1 587.5h0M257.1 598.9h0M247 591.2h0M136 580.6h0M322.7 593.5h0M112.8 597h0M228.8 589.5h0M167.5 593h0M203.8 591.4h0M360.7 592.4h0M384.1 590.1h0M133.4 589.3h0M283.9 586.8h0M454.3 595.4h0M421.6 597.2h0M346.4 599h0M412.2 593.8h0M272.9 592.8h0M242 597.2h0M362.3 590h0M122.5 596.7h0M452.3 596.5h0M212.3 591.1h0M242.1 581.6h0M471.5 598.3h0M186.6 597.9h0M269.2 596.5h0M355.6 583.4h0M128.8 598.9h0M144.2 596.1h0M152.3 594h0M238.7 587.6h0M465.6 580.7h0M260.1 589.6h0M151.7 590.4h0M434.2 583.4h0M154.7 597.9h0M441.1 588.3h0M388.7 598.7h0M334.6 599h0M379 585.8h0M223.1 599h0M377.6 580.1h0M335.3 595.2h0M225.7 585.4h0M466.2 595.2h0M185.1 580.1h0M262.8 593.8h0M218.9 587.6h0M471.4 593.3h0M423.5 594.6h0M260.7 585.6h0M467 586.9h0M367 585h0M447.6 581.4h0M301.9 594.8h0M104.6 592.2h0M235.6 599h0M475.4 596.1h0M452.4 599h0M237.3 586.1h0M355.1 588.9h0M285.6 598.6h0M414.6 586.7h0M281.6 591.4h0M404.3 592.8h0M280.8 593h0M378.8 587.4h0M227.9 586.3h0M243.2 588.9h0M243.9 583h0M455.5 586.3h0M245.3 595.4h0M265 590.5h0M114.7 591.8h0M451.1 598.8h0M437.1 591.2h0M477.1 587.7h0M372.3 586.9h0M260.4 598.4h0M423.4 583.6h0M373.2 597.3h0M289.8 592.4h0M238.9 592.9h0M274 580.6h0M337.7 580.7h0M443.6 597.8h0M392 594.9h0M326.6 591.4h0M380.1 596.2h0M356.9 595.1h0M396.2 592.9h0M343.9 580.1h0M207.4 599h0M438.8 592.2h0M344.9 584.9h0M436.8 594.9h0M473.2 594.8h0M375.2 584.8h0M238.4 594.3h0M239.8 595.6h0M256.9 584.4h0M124.8 580.3h0M399.3 591.5h0M343.5 596.2h0M389.5 583.7h0M245.6 592.7h0M184.3 596.9h0M422.4 589.6h0M270.1 589.7h0M171.6 599h0M236.3 591.2h0M171.4 591.9h0M224.2 596.8h0M380.3 595.3h0M381.1 587h0M243.2 598.9h0M418.9 591.7h0M320.1 588.6h0M308.3 582.7h0M105.3 580.9h0M333.7 594.5h0M443.1 583.1h0M326.2 599h0M336.4 594.4h0M317.8 584.9h0M151.6 584.5h0M218.8 596.9h0M116 598.5h0M202.7 592.1h0M455.4 597.9h0M210.7 595.1h0M342.7 595.4h0M353.9 598.1h0M118.5 591.1h0M374.1 598.2h0M120.1 589h0M126.6 582.2h0M361.7 598h0M256 598.8h0M135 595.4h0M432 582.7h0M385.2 589.8h0M321.7 592.5h0M348.6 592.8h0M251.5 584.7h0M215.2 594.5h0M357.4 581.1h0M231.6 594h0M253.2 597.4h0M235.4 586h0M172.6 593.2h0M208.8 591.1h0M392.8 598.4h0M284.9 597.7h0M345.1 588.8h0M185.2 597.2h0M216 595.8h0M437.6 583.7h0M399.6 594.7h0M273.9 597.5h0M275 581.5h0M136.3 594.7h0M175.5 584.5h0M215.3 593h0M121.6 588.5h0M295.3 585.7h0M373.3 587.2h0M200.8 596.9h0M326.8 598.8h0M454.3 587.8h0M287.5 595.3h0M131.1 591.6h0M392.7 598.4h0M139.2 588.6h0M278.7 585.9h0M256.7 580.5h0M430.1 595.9h0M303.7 590.9h0M271.4 585.2h0M367.2 585.2h0M197.1 592.6h0M306.4 591h0M108 585.4h0M270.5 598h0M423.5 591.6h0M380.4 587.3h0M336.1 582.5h0M123 595.7h0M163.6 589.8h0M184.5 598.9h0M153.2 597.8h0M305.1 593.6h0M276.7 599h0M300.6 596.9h0M136.4 598.8h0M158.7 594.6h0M164.7 593.4h0M163.5 587.4h0M431.3 595.9h0M129 581h0M133.6 589.5h0M386.5 593.1h0M437.1 598.1h0M372.9 582.7h0M439.3 584.4h0M266.1 592.5h0M421.1 595h0M198 598.9h0M178.8 598.2h0M451.4 596.1h0M234.5 580.8h0M361.8 594h0M141.6 595.2h0M211.4 581.5h0M260.2 580.8h0M203.6 598.9h0M440.1 598.7h0M398.3 590.7h0M208.7 584.8h0M263.4 580.5h0M311.8 581.7h0M451.9 595h0M362 587.6h0M348.3 599h0M360.7 586.7h0M174.8 598.6h0M127.4 591.8h0M141.9 584.4h0M258.2 580.1h0M378 594.1h0M170.7 594.1h0M330.3 584h0M437.4 595.9h0M110.8 589.1h0M360.5 589.5h0M404 585.4h0M337.2 585.1h0M149 581.6h0M352.6 598.6h0M165.3 589.7h0M217.1 581.9h0M206.9 593h0M291.4 581.8h0M216.3 583.2h0M374 591.3h0M457.7 583.4h0M383.8 591.8h0M118.5 597.3h0M346.7 598.4h0M343.8 595.5h0M247.7 585.1h0M418.1 587.1h0M269.9 592h0M472.6 582.2h0M330.5 598.7h0M441 598.9h0M146.1 589.3h0M175.8 586.9h0M360.1 597.9h0M443.6 580.1h0M349 580.5h0M403.2 593.3h0M412 581.8h0M363.7 598.6h0M242 588.2h0M239.6 597.9h0M273.5 598.2h0M280.4 598.5h0M375.2 597.4h0M453.8 598.5h0M339.4 589.6h0M176.8 590h0M308.5 590.3h0M171.6 593.2h0M416.3 590.2h0M193.6 595.7h0M432.6 598.8h0M281.8 592.5h0M263.7 599h0M142 584.6h0M273.1 596.4h0M271.8 598.8h0M132.6 584.9h0M387.6 597.6h0M221.4 598.7h0M221.5 592.3h0M385 592.6h0M420.8 580.1h0M315.3 598.9h0M152.5 588.9h0M151 583h0M122.4 598.8h0M476.4 594.5h0M310.7 590.7h0M146.5 595.7h0M240.7 587.3h0M396.1 588.4h0M170 593.5h0M446.3 597.8h0M233.2 590.3h0M476.2 598.9h0M361.9 593.5h0M300.9 584.6h0M138 590.6h0M221.2 586.9h0M370.6 594.3h0M159.2 586.6h0M365.5 591.4h0M382.4 581.5h0M193.9 588.5h0M405.3 596.7h0M441.6 596h0M461.5 591h0M467.8 583.4h0M396 595.1h0M274.3 590.9h0M404.7 594.3h0M440 597.4h0M297.8 598.1h0M166.2 596.4h0M119.9 591.3h0M335.2 594.7h0M401.9 591.8h0M358.9 598.6h0M226 599h0M162.1 584.4h0M153 590.7h0M244 588.9h0M429.7 584.9h0M464.8 581h0M251.9 580.4h0M388.7 596.6h0M225.4 592.3h0M419.9 598.5h0M437.1 589h0M325 594.5h0M245.5 594.5h0M371.1 593.8h0M370.4 583.6h0M134.7 599h0M455.9 597.6h0M408.1 594.5h0M186.5 599h0M263.2 590.6h0M122.5 599h0M210 583.5h0M384 596.8h0M253.7 594.3h0M368.4 596.5h0M235.5 592.7h0M191.2 594.1h0M383.2 592.6h0M123 595.5h0M316.4 597.2h0M247.8 591.5h0M239 597.7h0M431 598.8h0M442.8 598.6h0M310.3 591.8h0M256 590h0M434.2 595.9h0M124.6 597.6h0M432.3 590.6h0M385.5 594.8h0M223.8 588.5h0M315.6 582.6h0M162.4 666.8h0M361.9 678.9h0M277.5 675.8h0M143.2 672.3h0M225.8 673.5h0M213.8 664.7h0M203.2 674.2h0M369.8 679.1h0M257.6 663.7h0M406.1 665.5h0M371.9 669.2h0M269 663.6h0M187.3 674.8h0M274.9 678.2h0M405.4 670.1h0M471.6 663.5h0M252.7 670.1h0M122.3 677.9h0M158.3 671h0M203.9 667.4h0M277 666h0M166.4 672.9h0M337.5 663.8h0M467.9 664h0M185.9 665.9h0M239 669.3h0M441.6 664h0M317.9 672h0M198.8 666.9h0M269.3 678.4h0M394.1 669.1h0M127.9 667h0M409.1 668.2h0M248.9 672.3h0M117.2 672.5h0M359.8 664h0M258.9 677.5h0M200.6 670h0M232 670.5h0M249 666.8h0M449.7 673.5h0M477.5 666.6h0M277.4 667.1h0M428 667.1h0M357.7 664.6h0M305.9 665.7h0M445.6 667.1h0M460.2 670.8h0M230.3 670.4h0M452 673.5h0M411.9 670.8h0M334.5 664.3h0M414.7 672.3h0M345.8 666.2h0M388.9 670h0M222.5 681.3h0M392.4 673.2h0M417.8 673.6h0M246.6 680.2h0M442.6 673h0M265.5 669.4h0M119.2 678.4h0M414.4 671.3h0M277.2 676.2h0M110 667.7h0M196.2 671.6h0M235.2 671.6h0M439.4 667.8h0M145.2 663.5h0M416.1 668.8h0M268 663.6h0M140.8 663.5h0M438.8 663.6h0M223 668.9h0M317.6 665.1h0M344.8 672.3h0M472.3 663.9h0M213.3 664h0M210.9 665h0M113.4 676.3h0M205.5 674.7h0M408 676h0M111.4 671.2h0M422 672.1h0M329.1 668.1h0M411.3 670.1h0M234.3 669.4h0M279.3 664.7h0M354.9 677h0M347.8 663.5h0M254.3 675.3h0M151.3 669.5h0M358.9 670.1h0M226.3 663.5h0M366.7 664.5h0M328.1 669.9h0M373.8 664h0M468.1 674.8h0M430.1 664.7h0M372.8 667.3h0M365.3 673.6h0M255.7 680h0M266.8 668.8h0M370.9 664.4h0M438.8 666.6h0M435.7 664.3h0M148.6 671.2h0M192.5 668.3h0M177.3 674.2h0M379.2 673.4h0M152.5 663.6h0M321.1 663.8h0M371.3 670.4h0M452.6 676.6h0M348.4 676.8h0M292.8 666h0M125.1 673.8h0M352.3 672.1h0M294.5 668.6h0M447.6 667.3h0M154.6 680.1h0M388.3 678.6h0M472.6 668.3h0M160.4 669.3h0M286.3 667.4h0M397.6 665.5h0M466.8 665h0M208.7 676.9h0M190 674.3h0M205 667.8h0M278.6 665.4h0M411.5 679.8h0M449.7 664.5h0M111.7 668.3h0M380.3 670.4h0M463.2 681.1h0M358.7 665.6h0M253 663.7h0M250.1 674.9h0M220.9 664.7h0M304.6 678.6h0M344.8 664h0M264.3 665.2h0M407.3 668h0M268.8 678.1h0M213.6 668.5h0M470.6 666.2h0M304.9 672.5h0M227.9 672.1h0M260.5 676.9h0M311.3 674.3h0M317.5 673.6h0M248.6 664.3h0M238.7 666.5h0M107.4 675.3h0M299.3 669.1h0M366.9 663.7h0M149.2 674.1h0M117.3 677.9h0M293 680.6h0M425 667.8h0M231.2 668.2h0M391.3 668.7h0M372.8 681.2h0M383.6 669.7h0M381.1 669.3h0M320.4 668h0M453.7 681.1h0M315.6 670.6h0M140.8 670.7h0M451.4 665.4h0M393.3 665.5h0M370.4 665.9h0M325.9 675.5h0M114.1 677.1h0M298.9 665.4h0M217.5 670.5h0M380.7 664.6h0M128.4 665.2h0M340.5 667.7h0M388.8 674.3h0M240.3 671.2h0M156.8 671.6h0M345.4 665.3h0M352.6 664.3h0M467.4 670.4h0M448.7 673h0M182.7 674.4h0M333.1 667.3h0M362.5 675.1h0M357.6 665.1h0M465 679h0M265.2 679.4h0M475.6 666.8h0M173.9 665.4h0M286.1 664.3h0M191.2 674.4h0M109 671.7h0M255.4 673.9h0M199.3 669h0M182.1 663.5h0M427 667.1h0M213 679.7h0M241.2 670.2h0M154.9 667.9h0M431.1 676.7h0M409.6 679.1h0M188.8 663.7h0M150.9 672.5h0M307.2 667.2h0M369.8 665.1h0M330.6 667.9h0M154.4 675.5h0M171.3 676.1h0M388.2 668.3h0M272.5 664.9h0M154.4 673.6h0M241.4 670.7h0M240.4 665.7h0M163.3 675.2h0M264.8 664.4h0M430.3 664.4h0M188.2 664.4h0M312.4 675.5h0M113.7 679.4h0M366.1 676.9h0M260.6 668.3h0M137.3 665.6h0M429.4 665.9h0M440.7 677h0M448.2 664.3h0M261 677h0M219.1 665.4h0M109.7 670.1h0M308.8 665h0M199.4 672.2h0M167 675.7h0M430 668h0M151 670.8h0M213 664h0M368.7 670.6h0M204.1 665.4h0M374.2 679.2h0M234.2 671.1h0M185 668.8h0M320.2 666.2h0M329.5 670.3h0M118.3 664.1h0M257.7 664.3h0M307.4 671.3h0M337.1 678.3h0M330.7 675.4h0M145.4 678h0M451.6 671.3h0M413.2 670.4h0M265.4 664.5h0M282.7 674h0M400.7 678.5h0M296.8 679.9h0M241.9 663.5h0M262.2 670.2h0M392.6 665.3h0M111.5 674.2h0M173.9 677.4h0M314.8 664.2h0M297.9 675.4h0M186.1 680.2h0M123.2 664.4h0M325.5 673.1h0M328.4 679.3h0M177.7 663.6h0M304 666.9h0M251 667.6h0M433.7 665.9h0M362.2 670.8h0M208.9 679h0M198.1 666.1h0M174.4 673.7h0M362.6 667.1h0M146.2 671.4h0M228.9 670.4h0M348.5 663.5h0M119.2 676.6h0M428.3 663.9h0M185.9 668.1h0M415.1 666.2h0M461.6 663.9h0M442.4 663.7h0M328.3 680.7h0M373.4 679.1h0M234.1 680.2h0M441.8 665.8h0M392.1 679.2h0M182.4 667.5h0M391.7 670.9h0M447.1 668.2h0M270.5 664.5h0M205.2 678h0M200.3 678.6h0M403.9 670.8h0M215.5 663.5h0M146.3 676.8h0M462.4 680.4h0M207.3 679.7h0M267.5 667.1h0M443.7 676.6h0M357.1 665.9h0M142.3 664.7h0M201 664.8h0M316.7 666.3h0M183 678.1h0M240.6 663.5h0M105.5 670.4h0M113.2 670.6h0M111.6 668.9h0M334.7 670.2h0M183.3 677.1h0M467.7 676.4h0M452.4 680.7h0M240.3 670.3h0M257.6 675.8h0M165.2 665.2h0M271.6 670.3h0M474.6 666.6h0M103.5 667.5h0M431.7 663.9h0M297 671.4h0M417.5 666.5h0M330.3 680.2h0M467.6 670.7h0M229.2 672.5h0M376.6 673.2h0M355.8 667.4h0M371.3 666.9h0M189.4 664h0M310.1 664.6h0M208.1 666.1h0M241.8 667.9h0M468.5 669.9h0M308.5 667.7h0M307.9 676.5h0M298.5 669.7h0M234 664.7h0M182.1 663.9h0M209 663.6h0M258.3 670.9h0M145.1 675h0M271.9 672h0M263.8 676h0M357.6 664.1h0M308.4 665.6h0M382.8 667.2h0M186.2 663.6h0M472.7 664.1h0M196.5 679.6h0M121.1 667.8h0M264.8 673.2h0M396.2 680.8h0M221.8 663.8h0M183 663.5h0M203.2 671.9h0M438.2 663.9h0M202.8 678.4h0M322.8 667.6h0M129.1 663.7h0M183.7 671.8h0M123.8 669.5h0M409.5 663.5h0M210.1 667.9h0M331.3 674.5h0M357.2 668.2h0M229.1 672h0M274.8 679.5h0M301 671.1h0M352.4 669.1h0M287.1 672.8h0M327.5 681.5h0M216.8 669.3h0M468.4 676.5h0M310.3 666.2h0M169.1 667.9h0M262.3 668.2h0M198.3 669.1h0M317.7 664h0M349.7 673.9h0M175.4 665.4h0M116.4 668.9h0M355.8 667.9h0M323.4 671.6h0M118.7 663.7h0M292.7 679.4h0M367.5 668.4h0M199.6 664.2h0M345 675.2h0M249.7 663.9h0M206.2 673.8h0M391.9 667.7h0M435.6 667.5h0M110.9 664.9h0M436.7 673.8h0M134.6 665.9h0M250.4 669.1h0M111.5 679.3h0M301.7 665.6h0M113.8 670.8h0M452.7 674.1h0M424.9 678h0M352.1 663.7h0M219 671.1h0M258.4 665.1h0M127.4 677.8h0M352.8 666.1h0M278.7 678h0M156.2 672.1h0M189.6 678.8h0M403 680h0M246 669.6h0M222.9 666.9h0M460.5 680.6h0M475.8 678.9h0M286 672.8h0M443.4 668.2h0M447.5 676h0M208.8 667h0M361.6 664.5h0M198.2 664.8h0M142.1 678.9h0M477.1 676.6h0M291.5 674.8h0M360.3 668.4h0M297.7 664.2h0M193 666.8h0M236.2 672.7h0M192.8 665.3h0M430.8 675.6h0M452.5 675.6h0M175.3 669.2h0M415.6 676.3h0M187.8 669.1h0M323.5 663.5h0M193.6 674.7h0M352.7 668.5h0M316.7 670h0M232 663.9h0M381 675.4h0M265.5 675.3h0M413.1 673.5h0M405.8 680.5h0M117 679.9h0M272.1 675.5h0M379.1 663.9h0M322.5 663.9h0M377.1 666.7h0M243.6 665.8h0M406.4 672.3h0M214.3 674.6h0M171.7 676.1h0M329.3 675.2h0M333.7 681.1h0M363.4 668.8h0M324 670.8h0M209.3 666.2h0M402.4 676.6h0M464.9 673.4h0M291.8 667.6h0M367.2 672.5h0M456.7 674.8h0M246.3 665.8h0M118.9 675.6h0M262.8 667.6h0M121.9 669.3h0M439.8 665.8h0M381.5 675.1h0M350.2 671.4h0M195.8 673.1h0M321.8 680.6h0M295.7 666.9h0M442.7 672h0M230.4 672.5h0M159.3 664.7h0M434.4 668.8h0M403.5 665h0M279 665.3h0M403.6 671.4h0M249.9 667.4h0M181.4 665h0M361.6 666.3h0M141.3 667.4h0M272.3 681.2h0M246.9 667.7h0M467.5 674.2h0M274.5 667.6h0M186.7 664.4h0M279.6 672.3h0M141.8 669h0M167.1 671.5h0M231.5 672.9h0M396.3 667.7h0M245.9 663.8h0M181.6 671.9h0M405.4 664.3h0M469 679.1h0M239.5 670.2h0M354.9 666.5h0M239.7 674.2h0M284.2 668.3h0M313.6 664.1h0M278.9 666h0M164.9 669.9h0M366.1 669.9h0M289.6 673h0M260.5 681h0M182.5 663.5h0M315.8 673.6h0M245.8 667.6h0M230.9 665.4h0M399.7 677.7h0M206.9 670.7h0M274.8 664.2h0M377.8 670.1h0M474.5 679h0M441.7 665.6h0M143.3 676.4h0M142.7 673.4h0M168 673.8h0M122.2 663.9h0M428.3 669.7h0M271.4 680.7h0M396.9 665.2h0M367.4 667.4h0M276.4 666.3h0M187.4 666.2h0M204.6 664.8h0M430.6 667.3h0M312.8 676.4h0M357 664.4h0M460.3 679.6h0M417.6 666.5h0M414.2 672.4h0M113.7 667.3h0M364.5 670.3h0M458.4 675.9h0M416.5 680.9h0M231 678.9h0M102.9 676.1h0M135 669.4h0M267.9 663.8h0M341.3 675.8h0M186 665.4h0M391.8 670h0M108.9 666.2h0M456.8 665.8h0M210.7 668.5h0M435.3 676.3h0M246.8 672.9h0M112.4 663.7h0M241.9 672.2h0M154.8 663.6h0M422.8 664.7h0M122.6 663.9h0M131.7 665.9h0M319.6 672.7h0M209.5 669.7h0M227 671h0M143 672h0M102.1 679.3h0M180.7 670.5h0M172.9 668.4h0M201.5 672.3h0M395 677.2h0M468.3 668.6h0M308.6 666.9h0M210.4 669.6h0M467.9 663.7h0M383 666.4h0M326.7 665.7h0M372.3 669.4h0M218.6 668.5h0M103.7 663.9h0M443.3 663.8h0M251.5 673h0M115.6 679.6h0M179.7 680.4h0M265.1 671.2h0M329 663.9h0M292.3 674.8h0M398.9 674.5h0M357.8 664.2h0M255.9 669.6h0M117.3 675.2h0M140.4 670.7h0M202.4 664.5h0M460.2 671.9h0M377.5 671.6h0M314.2 678h0M125.8 667.3h0M184.3 671.4h0M250.3 679.3h0M189.7 665.7h0M446.9 674.2h0M263.4 667.2h0M378 664.4h0M373.4 665.2h0M405.1 663.8h0M445.7 677.7h0M111.2 664.5h0M445.8 676.6h0M211.8 676.1h0M320.1 665.4h0M360.6 667.9h0M155.4 677.4h0M371.8 665.4h0M262.6 673.3h0M241.6 665.6h0M299.9 680.1h0M137.7 665.5h0M283.6 681.1h0M475.2 663.5h0M343.3 664.3h0M179.8 664.2h0M289.9 681.3h0M465.1 667.1h0M439.7 673.4h0M129.9 678.7h0M204.8 680.9h0M151.7 678.7h0M294.8 669.7h0M170.8 669.2h0M387.6 670.5h0M470.6 670.1h0M442 664.2h0M379 671.4h0M433.9 666.6h0M276.1 676.4h0M198.1 667.2h0M420.3 672.5h0M286.1 663.5h0M389.2 667.9h0M191.4 667.4h0M153.7 677.1h0M401.8 680.5h0M355.5 664.5h0M260.9 681.4h0M102.4 666.7h0M158.1 664.6h0M205.4 671.9h0M127.3 677.8h0M263.8 664.6h0M140 669.9h0M233.3 669.5h0M142.6 666.9h0M292.1 663.8h0M290.6 677.1h0M323.8 664.2h0M339.4 663.8h0M155.4 663.5h0M301.4 664.6h0M206.8 664.1h0M438.5 664.3h0M355.6 676.3h0M271 671.1h0M227.3 676.6h0M359.8 663.8h0M366.6 664.3h0M282.9 664.7h0M284.1 672.7h0M377.7 666.5h0M122.6 668.5h0M445.8 670.5h0M334.9 675.2h0M341.9 680h0M460.9 674.6h0M405.5 664.3h0M201.5 673.9h0M320.3 677.7h0M393 666.6h0M166.4 672.7h0M143.7 669.3h0M205.7 667.7h0M347.9 672.2h0M334.2 663.7h0M438.1 673.8h0M443.1 671.7h0M345.1 678.4h0M382.5 672.2h0M117 663.5h0M371.5 677.3h0M247.3 665h0M267.9 677.2h0M386.1 664.2h0M177.8 665h0M382.3 665.5h0M436.1 667.8h0M174.6 667.9h0M154.6 678.1h0M110.7 667.9h0M244.4 663.6h0M185.4 681.2h0M425 668h0M430.3 678.9h0M424.4 674.3h0M315.2 669.7h0M371.3 671.5h0M467.9 664.7h0M439.8 675h0M268.4 677.3h0M209.6 667.5h0M318.9 680.6h0M193.2 677.3h0M349.2 679.3h0M214.8 672.8h0M436.1 678.3h0M364.6 677.1h0M340.4 670.5h0M174.3 669.8h0M469.3 680h0M117.8 666.2h0M192 677.2h0M170.4 675.2h0M175.8 666.7h0M467.6 664.1h0M320.7 665.8h0M386.2 663.7h0M356.6 665.6h0M462 666.5h0M353.7 663.6h0M455.2 672.2h0M445.8 674.7h0M124.7 674.7h0M245.2 664.9h0M436.8 672.8h0M233.3 663.8h0M346.1 663.7h0M191.9 663.6h0M166.8 674.8h0M202.6 681.1h0M207 676.1h0M378.7 672.4h0M329.4 664.3h0M413.6 679.3h0M301.7 664.7h0M134.3 665.5h0M467.5 666.4h0M207.4 669.9h0M115 675.8h0M395.1 666.2h0M113.2 678.7h0M406.4 675.2h0M181.2 680.2h0M343 663.6h0M471 673.6h0M171.2 678.5h0M326.5 672.2h0M112.5 665h0M399.9 663.5h0M174.9 663.8h0M321.1 664.3h0M396.9 668.5h0M396.1 679.1h0M467.4 664.8h0M239 675.9h0M227 679.7h0M228.4 672h0M198.3 674.2h0M208.6 668h0M373.9 676.8h0M154.7 664.6h0M181.7 675.3h0M355.4 674.1h0M405.7 665.3h0M288.7 663.5h0M234.4 671.5h0M199.9 676h0M181.8 668.4h0M359.2 665.1h0M351.5 667.7h0M120.2 664h0M347.3 676.7h0M357.6 677.7h0M352.3 675.6h0M417.1 671.4h0M301.8 664.5h0M190.8 663.9h0M143.8 667.5h0M211.9 670.7h0M413.4 665.7h0M438.3 677h0M174.2 671.2h0M176.2 663.7h0M184.8 664.9h0M104.9 663.6h0M405.5 677.8h0M426.7 663.8h0M110.8 677.6h0M242.9 666.8h0M365.5 670h0M225.8 664.4h0M145.2 674h0M442.5 663.6h0M186 669.9h0M202.2 669.2h0M290.7 665.6h0M146.1 668h0M407 664.3h0M304.3 676.4h0M316.5 666.8h0M451 675.6h0M476.8 666.1h0M283.9 668.5h0M418 671.9h0M308.9 669.7h0M437 666.9h0M151.3 664.6h0M193.7 663.9h0M469.2 670.5h0M402 668.6h0M298 665.2h0M437 668h0M254.6 674.7h0M428.6 681.4h0M283 668.1h0M412.6 668.1h0M178.1 669h0M217 665.6h0M392.5 666.8h0M337.1 666.2h0M144.9 675.6h0M393.3 673.8h0M331.3 664.6h0M290.5 676.9h0M396.9 671.3h0M339.3 664.6h0M122.8 677.3h0M108.9 665.5h0M252.3 673.7h0M364 677.8h0M451.6 665.7h0M195.6 664.1h0M226.1 664h0M463.4 670.9h0M286.6 663.7h0M444.9 665.4h0M391.4 664.9h0M203.7 664.2h0M303.1 665.9h0M316.9 674h0M186.9 664.2h0M295.8 667.7h0M270 667.1h0M164 664.1h0M375.4 672.2h0M360.6 672.3h0M295 664.8h0M445.7 670.1h0M274.2 665.6h0M243.7 681h0M254.7 676.2h0M148.8 671.4h0M204.2 665.3h0M216.2 667.6h0M344 667.8h0M425.8 664.4h0M423.6 668.3h0M400 667.6h0M198.7 678.6h0M341.4 674.2h0M298.5 673.9h0M461.7 674.6h0M466.3 666.8h0M214 678.3h0M415.5 678.4h0M265.7 667.9h0M458.2 664.9h0M164.6 664.6h0M215.8 668h0M246 668.7h0M115.3 666.7h0M293.1 663.7h0M283 678.8h0M347.6 680h0M425.4 669.3h0M109.9 663.7h0M318.7 677.2h0M226.7 664.2h0M387.4 670.2h0M278 664.2h0M310.2 670.9h0M369.2 678.8h0M130.5 676.9h0M222.8 667.9h0M231.3 676.3h0M267.8 663.8h0M280.3 664.3h0M108 663.7h0M245.1 668.5h0M102.3 664.2h0M441.1 670.3h0M470.5 670.3h0M460.8 673.5h0M247.6 663.6h0M157.5 675.9h0M351 666.1h0M163.4 672.3h0M451.6 665.4h0M476.9 670.1h0M180.2 664.7h0M369.6 679.5h0M178.4 665.3h0M155.8 665h0M186.8 667.9h0M191.4 672.8h0M192.2 665.7h0M259.4 664.5h0M121.2 663.9h0M103.8 673.1h0M120.5 669.1h0M436.3 671.8h0M217.1 667.7h0M262.7 666.4h0M122.2 664.4h0M155.8 665h0M226.4 664h0M333.5 664.9h0M293.9 673.5h0M288.9 674.6h0M395.3 668.5h0M181.8 663.6h0M362.5 667.1h0M211.4 663.8h0M169.7 678.5h0M279.5 677.3h0M419.5 665.4h0M187 678.3h0M191 671.4h0M454.1 668.8h0M261.7 680.3h0M426.5 679.4h0M367.8 665.1h0M120.1 663.5h0M449.1 670.3h0M434.1 680.3h0M191.2 680.6h0M205 664.6h0M204.3 681.4h0M455.3 666.9h0M283.2 676.7h0M404.3 678.6h0M238.2 665.2h0M294.8 679.6h0M332.5 678h0M175.8 669.6h0M446.8 670.8h0M400.5 676.3h0M268.5 673.4h0M362.1 668.3h0M297.6 676.4h0M433.5 681.1h0M240.1 673.1h0M309.1 677.4h0M192.4 668.8h0M198.3 676.2h0M369.1 663.5h0M142.8 664.3h0M324.3 675.5h0M231.3 663.8h0M322.1 671.8h0M263.8 665.7h0M232.4 665.2h0M407.6 667.4h0M370.3 670.4h0M188.2 665.8h0M354.1 677.7h0M447 664.4h0M199.5 663.9h0M173.1 667.4h0M372 679.1h0M324.2 664.3h0M243.5 664.3h0M207.1 670.9h0M290.6 664.6h0M205.8 678.6h0M339.1 671.5h0M223.1 666.1h0M388.3 663.5h0M347.8 680.3h0M340.9 663.6h0M114.7 675.7h0M171.6 668h0M347 673.1h0M210.2 673.3h0M445.6 668.8h0M251 673.3h0M430.3 673.4h0M450.7 675.6h0M461.7 665.5h0M355.1 665h0M146.2 666.7h0M457.6 666h0M218.1 679.4h0M471.2 675h0M234.6 676.7h0M126.6 663.5h0M125.8 666.6h0M192.7 677.6h0M270 677.4h0M285.4 667.2h0M229.6 663.6h0M273 680.1h0M467.3 679.6h0M138.8 668.4h0M415.6 664.4h0M126.5 664.9h0M133.6 674.6h0M369.9 681.2h0M121 673.7h0M400.4 664.6h0M131.7 680.9h0M399.2 663.8h0M172.4 672.7h0M166.3 668.3h0M158.4 663.9h0M284.1 670.3h0M420.5 663.5h0M235.4 663.8h0M309.8 664.5h0M226.5 680.6h0M346.2 672.9h0M329.7 664.9h0M359.5 680.7h0M135.6 677.1h0M231.3 664.9h0M348.3 677.4h0M164.8 664.8h0M290.3 664.9h0M292.6 681.2h0M111.7 668.1h0M178 664.5h0M323.4 680h0M278.6 670.6h0M364.9 677.6h0M465.5 666.6h0M168.7 679.2h0M329.5 678.2h0M157.2 675.8h0M146.5 664.2h0M147.5 667h0M258.2 672.7h0M454.6 668.2h0M319.5 667.8h0M245.9 665.6h0M103.9 665.5h0M373.8 676.1h0M360 668.4h0M256.5 664.8h0M193.2 681.4h0M322.9 667.7h0M303.2 669.3h0M212.5 668h0M263.8 678.7h0M437 666h0M273.3 665.1h0M460.2 664.2h0M283 663.5h0M275.3 668.7h0M107.4 664.4h0M289.9 668.9h0M216.1 663.7h0M223.9 666.8h0M141 671.4h0M184.7 670.1h0M368.9 663.5h0M289.2 672.2h0M438.2 673.4h0M417 672.8h0M186.3 676.4h0M386.2 669.2h0M449.9 663.6h0M443.4 667h0M305.9 676h0M164.9 669.4h0M107.7 663.6h0M461.5 665.1h0M262.5 664.1h0M452.5 669.6h0M423.5 665.7h0M276.2 665.4h0M323.7 673.8h0M317.6 671.1h0M218.6 680.1h0M109.3 664.5h0M352.9 680.7h0M420.6 665.4h0M456.7 668.6h0M316.7 672.5h0M334.2 678.2h0M439.9 666.3h0M437.5 666.3h0M359.1 664.4h0M341.8 666.1h0M475.9 672.9h0M247.6 680.4h0M145.4 674.8h0M345.8 663.5h0M274.9 664.1h0M477.9 664h0M341 670.3h0M149.1 679.6h0M317.8 671.8h0M201 664.4h0M224.5 663.6h0M177.7 669.4h0M248.8 675.1h0M155.3 664.9h0M298.7 673.4h0M220.2 664.9h0M149.1 667.1h0M244.6 676h0M192.3 666.7h0M382.2 664.9h0M116.5 680.7h0M445.9 666.3h0M208.5 668.7h0M181.1 675.8h0M434.8 674h0M252.2 677.1h0M454.1 664.7h0M353.3 664.6h0M472.8 676h0M256.1 674.6h0M212.2 663.7h0M295.1 663.8h0M273.8 677.5h0M319 665.7h0M181.7 670.6h0M293.5 678.8h0M166.5 668.8h0M270.3 667.3h0M172 667.4h0M306.1 664.8h0M222.5 670h0M455.4 669.1h0M232.2 663.6h0M296.8 666.8h0M145.5 669h0M333.7 666.9h0M378.4 672.1h0M125.6 663.6h0M299.6 671.6h0M311.4 665.2h0M231.5 674.1h0M251.2 670h0M187.9 672.1h0M282.2 663.5h0M385.7 676.2h0M473.1 679.9h0M366 668.8h0M201.9 673.8h0M259.5 666.5h0M146 671.6h0M369.2 675.3h0M159.4 664.9h0M341.6 664.2h0M435.3 679.5h0M339.2 665.6h0M313.4 675.3h0M231.7 672.5h0M328.1 678.9h0M393.8 673h0M306.9 678.4h0M328.6 673.4h0M218.8 664h0M311.7 665.1h0M466.6 665.1h0M438.7 666.6h0M174.1 671h0M223.2 681.3h0M334.2 664h0M218.6 664h0M287.6 670h0M220.8 673h0M269.3 676.6h0M357.3 665.6h0M414.1 663.6h0M190.5 663.6h0M459.8 670.1h0M418.3 681.2h0M136.4 678.7h0M109.8 673.7h0M400.2 667.4h0M436.7 675.3h0M289.1 665.9h0M161.9 663.8h0M305.6 669.9h0M172.5 670h0M131.8 666.1h0M353.6 664.4h0M298.6 664.2h0M433.6 665h0M452.2 679.2h0M464.7 665.9h0M358.3 663.8h0M467.5 673.5h0M115.9 664.3h0M141.7 666.8h0M454.4 675.8h0M224.6 676.3h0M106 670.3h0M248.4 663.8h0M447.7 672.7h0M476.4 672.3h0M335.5 664.2h0M281 678.6h0M312.1 672.3h0M274.9 667h0M106.4 665.1h0M172 663.9h0M122.4 675h0M476.3 673.6h0M414.3 665h0M421.4 667.3h0M423.4 665.3h0M214.4 670h0M186.1 665.6h0M375.2 675.8h0M471.6 672.6h0M233.8 668.9h0M322.2 671.3h0M446.9 670.8h0M463.5 669h0M269.8 663.6h0M223.9 669.1h0M106.4 668.3h0M145.6 665.7h0M434.4 679.1h0M145 671.2h0M284.9 663.7h0M213.8 670.1h0M261.9 670.8h0M126.8 671.7h0M331.9 664.8h0M315.2 679.6h0M437.1 671.8h0M297.8 674.9h0M272.7 673.8h0M242.1 670.5h0M377.9 671.1h0M328.7 667.4h0M233.6 672.7h0M269.7 668.4h0M244.4 666h0M337.3 678.1h0M175.3 672.5h0M301.8 672.2h0M351.4 667.7h0M105.9 667.1h0M298 672.1h0M450.5 672.7h0M347.6 666.9h0M400.7 664.2h0M434.8 669.2h0M272.5 673.5h0M306.1 681.4h0M147.3 663.7h0M325.6 665.2h0M187.5 681.4h0M300.9 666h0M239.1 665.2h0M196.8 664.2h0M469.1 674.5h0M237.2 664h0M468.8 678.4h0M137.7 677.9h0M309.3 681.1h0M267.6 668.3h0M105.1 671h0M191.8 678.2h0M186.2 678.2h0M227.4 676.3h0M370.5 679.6h0M318.2 667h0M200.8 665.3h0M140.8 666.1h0M221.2 676.7h0M104.6 669.5h0M292.9 664.4h0M362.7 665h0M381.4 664.6h0M432.3 666.3h0M137.5 664.4h0M178.8 664.2h0M220.1 680.7h0M242.9 667.6h0M385.1 663.8h0M134.9 677.9h0M225 664.6h0M171.1 674.7h0M469.5 667.6h0M369.6 668.7h0M178.6 666.3h0M229.5 665.5h0M400.4 663.9h0M247.3 674.5h0M114.5 680.5h0M333.2 672.6h0M174.3 664.9h0M419.1 680.8h0M107.6 676.5h0M177.2 663.8h0M326.4 663.9h0M418.1 677.2h0M209.6 664.3h0M294.9 674.8h0M116.2 673.8h0M148.5 667.3h0M164 663.8h0M303.1 666.1h0M444.6 678.8h0M375.1 669.7h0M345.1 666.6h0M278.3 670.4h0M260.3 668.4h0M422.4 681.2h0M378.7 677.6h0M216.7 663.8h0M185.7 669.4h0M389.5 674.5h0M446.1 675.6h0M214.3 663.7h0M283.3 666.6h0M429 678.9h0M304.4 675.4h0M375.3 669.8h0M268.2 680.2h0M401.9 670.8h0M473.1 664.4h0M391.3 670.4h0M222.9 664.2h0M320.5 677.9h0M168.1 678.7h0M473.1 664.8h0M309.7 669.2h0M228.2 664.1h0M202.6 679.8h0M417.9 680.1h0M289.5 669.4h0M125.2 668.1h0M320.7 681.3h0M126.2 672.7h0M119.6 680.7h0M177.9 673.5h0M340.5 664.9h0M275.6 668h0M169.2 667.6h0M125.8 673.8h0M467.2 670.3h0M252.2 669.7h0M156.2 674.6h0M361.9 664h0M244.1 664.1h0M365.6 663.5h0M429.3 663.7h0M416.1 664.8h0M300.9 673.9h0M455 678h0M159.3 674h0M263.7 664.5h0M275.7 679.7h0M109.3 673.6h0M305.9 678.2h0M280.7 665.4h0M422 664h0M360.9 666h0M122.2 664.5h0M421.7 664.4h0M447.3 664.3h0M451 663.7h0M349.9 670.1h0M326.3 679.4h0M187.3 681.3h0M316.2 676.3h0M196.2 681.4h0M372.9 668.9h0M183.7 678.1h0M312.6 681.2h0M434.3 674.8h0M373.5 664.5h0M414.1 674h0M138.7 663.8h0M140.2 665.1h0M389.4 675.3h0M363.3 667.1h0M454.7 664.4h0M187.6 668.4h0M200 674.5h0M415.8 674.7h0M223.6 671h0M220.4 670.4h0M301.7 664.4h0M419.8 676.4h0M394.4 663.9h0M189.9 674.8h0M405.6 671.8h0M452.8 668.1h0M187.3 669h0M215.4 667.3h0M396.1 666.5h0M370 671.3h0M110.2 669.6h0M428 672.5h0M422.1 672.3h0M476 663.6h0M261.9 664.8h0M386.4 666h0M352 672.7h0M108.4 671.8h0M225.7 665.5h0M344.7 672.1h0M182.4 673.9h0M130.2 663.7h0M435.7 679.5h0M458 681.3h0M380.6 670.8h0M301.1 670.1h0M456.7 680.6h0M265.9 664.9h0M304.2 668h0M406.2 679.3h0M335.1 663.8h0M302.9 664.2h0M303.8 676.6h0M355.1 668.8h0M161.4 679.6h0M429.6 669.2h0M121.7 673.1h0M252.8 667.6h0M244.3 665.8h0M154.8 672.5h0M296.9 668.2h0M384.2 669.5h0M162.8 665.7h0M312 672.9h0M340.2 674.8h0M236.4 675.3h0M321.2 665.5h0M149.1 672h0M420.5 680.1h0M409 676.7h0M323.8 665.4h0M213.4 677.7h0M204.7 669.1h0M308.5 663.5h0M143.8 664.9h0M401.3 675.7h0M134.9 664.5h0M473 664.5h0M402.8 671.2h0M429.9 674.5h0M138.6 675.3h0M371 663.6h0M456.3 666h0M276.6 669.9h0M310.8 670.8h0M126.7 677.5h0M298.8 663.9h0M291 664.8h0M264.3 674.1h0M385.4 664.5h0M210.2 680.6h0M338.3 664.7h0M331.3 665.4h0M129.9 672.7h0M144.1 664.3h0M357 680.5h0M127.9 674.8h0M155.7 663.7h0M108.3 663.5h0M376.8 678.9h0M106.9 664.4h0M119.8 667.8h0M223.1 664.8h0M408.6 664h0M339.8 664.3h0M347.9 664.2h0M176.1 681.2h0M202.2 668.5h0M350.5 681.5h0M308.5 664.1h0M353.4 673.3h0M321.7 667.4h0M410.3 663.7h0M307.4 670.3h0M447.2 675.6h0M192 667.4h0M326.1 667.3h0M125.6 681.3h0M272.8 664.3h0M159.4 663.5h0M444.5 664.3h0M313.9 679.9h0M390.8 671.3h0M209 673.1h0M405.4 664.9h0M187.9 667.8h0M327 678.4h0M324.3 665.7h0M374.8 664.4h0M142.3 663.5h0M318.7 671h0M276.7 670.5h0M172.7 665h0M321.9 667.7h0M289.7 679.1h0M277.7 674.7h0M124.8 669.3h0M122.3 664.9h0M172.9 667.4h0M161.8 679.6h0M215 666.2h0M128.7 667.2h0M396.8 670.3h0M438 671.8h0M344.1 668.1h0M416.1 668.5h0M154.4 665.1h0M401.8 663.7h0M169.8 672h0M358.6 668.8h0M347.3 668h0M323.7 663.6h0M257 680.8h0M318.3 666.7h0M336.3 680.8h0M277.1 667.9h0M410.9 677.4h0M187 672.9h0M214.3 666.9h0M403.9 667.1h0M445.8 669.2h0M428.1 664.2h0M254.1 663.6h0M424.6 678.4h0M284.7 668.8h0M466.9 667.4h0M217.1 664.3h0M447.5 676.2h0M300.2 674.4h0M416.3 673h0M142.7 672.5h0M429.8 669h0M262.6 672.4h0M173.7 665.2h0M357.7 681.3h0M144.7 672.9h0M291.3 663.6h0M162.7 666.2h0M362.3 664.2h0M242.4 671.9h0M385.8 681.4h0M417 664.8h0M312.3 671.6h0M309.7 671.4h0M246 665.3h0M352.9 678h0M358.5 672.7h0M462.1 665.5h0M318.2 676.8h0M347.4 663.5h0M294.1 676.5h0M178.1 667.6h0M471.4 668.6h0M306.3 671.4h0M421.5 668.6h0M439.8 673.8h0M252.9 671.8h0M214.9 663.7h0M284.5 663.6h0M214.4 677.2h0M466.9 664.8h0M164.4 666.9h0M271.4 664.3h0M405.3 664.4h0M304.8 665.7h0M345.1 664.1h0M287.8 677.3h0M108.3 664.8h0M129.2 677h0M354.2 665.4h0M440.4 664.6h0M285.7 674.4h0M328 663.7h0M119.8 664.7h0M457.6 678.7h0M215 663.6h0M340.7 664.9h0M437.4 679.2h0M396 675.5h0M394.7 676.9h0M244.8 674.2h0M106.8 673.5h0M269.3 681h0M397.3 668.6h0M367.8 671.1h0M333.9 663.5h0M186.5 665.6h0M366.5 679.1h0M338.3 675.1h0M341.2 664.3h0M198 671.1h0M385.5 668h0M363.3 666.6h0M220.4 664.5h0M257.6 671h0M143.3 679.5h0M105.1 674.4h0M232.4 679.7h0M209.8 663.6h0M361.6 667.3h0M409.6 672.9h0M267.9 672.8h0M358.2 666.5h0M175.3 672.6h0M316 663.6h0M162.9 668.2h0M135.8 669.9h0M250.6 666.1h0M384.3 674.6h0M127.2 671.4h0M475.2 671.6h0M472.3 665.2h0M185.1 666.5h0M190.2 664.5h0M197.8 669.5h0M407.2 675.4h0M117 675.3h0M341.9 665.7h0M104.6 677.6h0M152.6 665.5h0M216.4 676h0M457.4 679.1h0M421.4 677.3h0M279.5 663.7h0M190.3 664.3h0M145.6 664.2h0M222 663.7h0M213 677.5h0M192.9 669.6h0M421.9 663.5h0M375.4 670.3h0M113.4 678.5h0M401.1 664h0M463.5 671h0M340.8 665h0M113.5 673.8h0M370.2 664.7h0M114.8 670.9h0M217.8 666.8h0M428.4 670.7h0M146.3 673.6h0M372.9 670.8h0M460.5 669h0M346.4 663.7h0M215.2 666.1h0M263.6 669.7h0M145.1 673.5h0M122.5 665.5h0M322 663.5h0M225.6 676.3h0M377.1 667.3h0M164.8 674.9h0M428.8 663.8h0M259.3 670.4h0M362.7 664.9h0M411.1 671.6h0M402.3 680h0M359 673h0M213.9 665.8h0M242.5 676.4h0M326.1 665.8h0M441.4 669.8h0M470 672.6h0M378.3 666.8h0M474.9 669.1h0M355.3 667.7h0M298.6 664.6h0M240.5 667.9h0M381.3 664.4h0M176.4 672.4h0M280 678.2h0M109.3 668.4h0M414.6 675h0M234.7 669.7h0M251.3 663.5h0M132.5 665.2h0M430 664.8h0M209.3 670.6h0M364.1 672.5h0M218.2 666.7h0M106.9 676h0M243.8 666h0M179.9 669.3h0M158.3 666.5h0M141.6 664.8h0M300.3 666.5h0M142.3 678h0M124.4 667.9h0M212.2 663.7h0M213.2 668.4h0M361.1 665.6h0M244.6 678.7h0M340.7 668.4h0M181.8 675.7h0M451.9 665.3h0M421.9 667.2h0M282 663.6h0M193.3 665.3h0M178.2 676.8h0M459.6 666.4h0M403.6 666.1h0M320.5 664.8h0M443.9 669.7h0M324 675.9h0M298.9 669.2h0M369.6 669h0M318.7 666.1h0M159.4 665.1h0M467.2 671.2h0M108.9 664.7h0M321.3 669.7h0M473.9 678.8h0M128.8 676.2h0M471.6 674.8h0M460.4 667.3h0M338.6 673.3h0M401.5 674.1h0M410.5 666.7h0M401 671.4h0M463.4 666.5h0M335 677.7h0M387.7 673.6h0M156.8 664.4h0M221.6 672.6h0M114.3 672.7h0M147.1 664.8h0M206.4 670.4h0M372 680h0M187.9 663.9h0M424.5 671.2h0M447.6 674h0M150.9 667h0M184.4 668.5h0M209.4 677.7h0M438.8 664.8h0M477.9 680.4h0M246.9 678h0M457.7 674.5h0M238.5 672.1h0M390.3 666.7h0M280.7 663.9h0M160.7 676h0M218 673.7h0M263.4 673.9h0M209.3 663.9h0M353 665.5h0M178.9 668.8h0M288.5 678.5h0M364.1 668.3h0M267.8 671.4h0M150.8 666.1h0M329 679.8h0M328 665h0M465.8 676h0M185.8 667.1h0M114.6 675.2h0M184 676.8h0M371.9 675.5h0M314.3 665.4h0M115.6 671.3h0M106.9 669.8h0M393 664.3h0M266.3 670.2h0M158.7 664.9h0M331.5 664.6h0M159.2 665.1h0M454.3 678.6h0M143.9 670.9h0M256.6 663.6h0M196.5 672.5h0M109.3 680.3h0M209.4 666.8h0M458.9 664.3h0M151.1 668.9h0M219.8 666.4h0M321.1 680.1h0M258 663.6h0M242.2 677.4h0M264.7 663.7h0M195.9 665.2h0M233.8 666.4h0M354.2 674.1h0M118.8 664.3h0M411.1 678.1h0M398.4 664.6h0M362.5 663.8h0M355.9 665.1h0M417.8 677.2h0M277.7 674.3h0M457.2 678.5h0M345.4 671.8h0M236.2 673.3h0M154.9 668.7h0M134 663.9h0M353.1 668.1h0M180 680.1h0M211.2 670.2h0M286.3 664.7h0M475.6 675.1h0M437.4 666.1h0M444.5 679h0M456.1 664.6h0M160.6 663.8h0M135.8 673.7h0M121.1 668.8h0M235.5 674.3h0M119.5 674.2h0M462.2 666.1h0M253.7 674.6h0M216.8 677.3h0M476.6 665.1h0M278.8 664.3h0M311.7 667.5h0M467.6 674.3h0M475.1 676.4h0M412.1 667.4h0M352 664.1h0M232.9 679.3h0M470.5 664.6h0M288 667.7h0M335.1 671.3h0M200.1 678.2h0M271.2 675.5h0M373.5 680.9h0M295.7 671.2h0M392.3 665.2h0M118.9 676.4h0M363 674.9h0M402.9 664.9h0M432.1 672.3h0M457.1 670.5h0M427.4 663.7h0M164.2 670.5h0M353 667.4h0M129.1 678.3h0M128.9 678.4h0M189.6 673.8h0M325 665.3h0M225.5 665.4h0M302.4 665.8h0M306.5 665.9h0M147.3 673.6h0M200.4 680h0M254.4 665.6h0M372 678.7h0M241.2 674.5h0M226.7 681.3h0M214.9 663.6h0M103.5 670.3h0M336.9 665.9h0M257.7 667.8h0M238.6 664.8h0M306.7 672.9h0M112.2 678.2h0M199.5 669h0M183.9 673.1h0M254.7 671.1h0M255.4 669.6h0M134.5 681h0M262 666.6h0M420.4 666h0M399.5 668.1h0M145.9 670.9h0M207.4 664.9h0M474.2 679.7h0M279.3 676.3h0M353.9 666.2h0M150.7 671.1h0M173.7 675h0M325.7 665.1h0M394.1 680.6h0M282.5 680.6h0M271.1 663.5h0M275.8 666.9h0M447 669.9h0M463.2 664.5h0M246.1 663.5h0M121.3 673.9h0M114.4 665.1h0M265.3 679.3h0M190.8 663.5h0M365.7 673.6h0M154.1 679.5h0M427.4 679.7h0M411.7 670.3h0M365.7 664.1h0M344.1 666.9h0M228.2 666.3h0M132.5 676.4h0M389.4 663.5h0M294.9 663.5h0M307 664.5h0M463.3 666.4h0M298.8 665.6h0M441.9 663.5h0M215.9 665.2h0M382.6 667.2h0M426 666.5h0M149.3 668.6h0M134.4 664.4h0M298.6 670.9h0M182.3 664.7h0M298.1 668.4h0M283.1 673h0M155 663.5h0M126.4 676h0M366.2 664.4h0M226.3 666.2h0M449 667.9h0M370.6 663.9h0M117.6 665.2h0M343.2 668.5h0M429.9 676.7h0M351.8 681.4h0M463 678.2h0M135.6 667.6h0M156.7 671.7h0M291.9 663.9h0M131.9 668.8h0M336.9 667.8h0M279.4 672.2h0M364.4 673.9h0M258.1 664.6h0M429.1 663.6h0M179.4 664.8h0M325.5 671.9h0M139.5 669.7h0M318.1 673.4h0M129.8 674.3h0M203.6 667.4h0M148.8 677.2h0M334.4 676.4h0M295.6 664h0M252.9 663.8h0M139.1 676.3h0M102 667.5h0M117.7 675.2h0M474.5 663.6h0M238.8 680.8h0M196.3 666.3h0M473.2 679.3h0M247.3 673h0M400.6 666.9h0M102.8 667.2h0M362.4 680.5h0M268.1 667.8h0M245.2 671.6h0M110.4 679.1h0M460.7 663.6h0M104.3 666.3h0M156.9 675.3h0M429.1 670.3h0M456.9 665.2h0M175.7 667.4h0M271.7 664.8h0M448.3 674.9h0M210.4 665.2h0M208.6 667.6h0M348.1 675.5h0M459.2 663.8h0M175.5 667.3h0M460 668.6h0M372.4 676.8h0M275.3 667.3h0M393.8 672.3h0M475.3 665.7h0M460.5 669.2h0M428.7 672.3h0M313.9 677.5h0M132.3 665.9h0M285.3 676.6h0M172 675.6h0M135.2 666.9h0M276.4 674h0M298.5 677.4h0M362.4 667.4h0M297.9 667.5h0M430.1 666.2h0M169.9 665.4h0M196.2 676.3h0M360.2 665.4h0M259.9 678.6h0M463.3 665.1h0M456.9 663.7h0M477.5 666.4h0M460.9 663.6h0M360.8 679.4h0M410.4 670.9h0M160.5 665.3h0M456.6 677.8h0M185.2 666.8h0M332.6 666.2h0M182.2 677.9h0M143.8 672.2h0M254.6 668.9h0M429.7 674.8h0M393.2 663.5h0M406.6 675.9h0M102.2 665.2h0M376.7 677.9h0M304.8 678.4h0M135 665.6h0M410.4 675.9h0M185.9 670.8h0M266.8 674.6h0M251.8 666.4h0M388.5 673.6h0M238 674h0M200.6 669.5h0M172.6 666.8h0M259.4 663.9h0M219.2 666.9h0M225 669.6h0M440.2 677.4h0M213.2 664.2h0M135 678.3h0M387.7 674.6h0M443.4 667.7h0M166.4 663.9h0M252.2 675.3h0M134 668.3h0M132.6 665h0M310.1 672.5h0M456.4 666.4h0M189.4 663.7h0M172.6 663.6h0M102.5 664.1h0M303.8 668.6h0M442.9 669.2h0M134.7 664.3h0M365.4 680.9h0M383.8 665.3h0M231.9 668.3h0M264.9 665.9h0M160.1 663.6h0M432.9 680.8h0M469.8 667.3h0M360.4 664.9h0M144.3 663.5h0M227.2 676h0M300.4 665.3h0M283 670.2h0M175.5 668.5h0M451.3 668.5h0M474.3 674.2h0M150.3 679.2h0M362.3 668.4h0M173 672.7h0M173.6 668.7h0M158.9 667.9h0M465.7 671.4h0M294.8 671.8h0M348.1 671.5h0M209.2 665h0M330 679.5h0M429.8 669.2h0M213 671.2h0M119.6 669.4h0M396.6 680.6h0M136.2 664.9h0M282.4 671.6h0M464.4 664h0M150.4 669.1h0M400.3 663.6h0M245 673.9h0M260.1 664.7h0M128.8 675.1h0M293.8 670.2h0M358.9 675.2h0M253.1 667.1h0M447.6 663.8h0M394 668.7h0M302.3 665.5h0M456.5 666.2h0M222.5 663.7h0M437.2 676.9h0M121 664.3h0M210.4 663.6h0M289.1 677.3h0M372.7 669.5h0M470.2 666.2h0M221.5 665.7h0M328.6 668.8h0M148.9 669.3h0M465.4 678.1h0M336.5 677.7h0M284.9 669.4h0M363.7 664.9h0M325.1 669.5h0M214 669.4h0M168.9 672.4h0M145.1 668.5h0M122.9 670.2h0M138.5 676.7h0M108.8 676.3h0M214.4 680.2h0M225.6 664.3h0M353.7 665.4h0M407.7 669h0M202.6 671.3h0M185.9 665.6h0M132.9 665.3h0M184.3 664.4h0M258.4 668.5h0M325.6 670.4h0M358.6 671.7h0M279 677.5h0M155.2 665.8h0M106.6 679h0M432.9 667.8h0M418.9 670.7h0M452 678.7h0M226.6 665.8h0M258.3 680.3h0M278 667h0M111 667.4h0M449.9 668h0M400.9 678.6h0M454.4 674.4h0M288.8 666.1h0M455.6 676.2h0M381.4 663.7h0M345.8 673.4h0M152.7 666.5h0M272.9 665.5h0M142.3 664.4h0M274 663.5h0M400.2 667.9h0M206.8 665.5h0M220.9 671.4h0M370.9 668.2h0M370.8 670.9h0M407 674.4h0M389.7 663.5h0M234.1 664.1h0M414.1 664.5h0M449.3 666.7h0M159.3 673.6h0M171.7 667.1h0M267 672.2h0M296.7 672.8h0M400 680.6h0M335.4 668.1h0M288.6 666.8h0M415.5 670.3h0M363.9 676.6h0M363.8 678.4h0M272.7 673.6h0M434.8 669.2h0M410.6 665.8h0M161.9 677.4h0M309.4 680.4h0M327 665.6h0M147.7 678.7h0M197.1 664.5h0M300.6 674.1h0M317.8 663.6h0M395.9 673.1h0M224.2 679.3h0M288 675.3h0M136.2 666.2h0M386.3 673.3h0M365.8 673.5h0M112.4 677.5h0M117.7 665.4h0M215.8 669.4h0M138 668.1h0M154.6 666.6h0M231.5 664.1h0M403.9 663.6h0M177.6 678.5h0M254.4 680h0M217.6 669.8h0M300.2 667.7h0M474.1 667.7h0M401.7 669.6h0M233.3 677.3h0M449.4 663.5h0M327.2 675h0M292.7 667.7h0M372.4 664.4h0M280.6 664.9h0M427 675.7h0M251.1 675.7h0M306 672.6h0M191.9 675.4h0M346 681.4h0M200.6 667.7h0M395 665.6h0M389.8 677.4h0M164.4 674.3h0M211.2 665.8h0M234.4 675.6h0M341.9 667.4h0M358.6 676.4h0M175.8 677.8h0M297.9 672.2h0M425.5 665h0M277.9 673.9h0M108 667.5h0M305.7 668.5h0M291.7 677h0M144.9 674.1h0M208.1 663.8h0M275.8 664.2h0M274.5 664.5h0M269.1 664.2h0M476.5 665h0M268.8 671.5h0M355.4 664.2h0M420.8 667.2h0M133.1 668.2h0M336 667h0M375.8 666.3h0M408.8 679.6h0M409.1 663.7h0M259.8 670.1h0M246 664.7h0M323.2 664.1h0M164.9 668h0M476.8 667.4h0M465.1 673.1h0M345.1 679.1h0M321.2 674.6h0M279.5 676h0M431 663.5h0M453.3 663.6h0M342.7 663.8h0M386.3 668.2h0M153.3 677.2h0M195 678.7h0M246.3 670.6h0M269.4 675.1h0M235.3 669.7h0M188.5 666.7h0M143.5 665.6h0M206.5 673.4h0M156.7 664.4h0M467.8 672.4h0M134.3 677.8h0M387.4 671.7h0M463.7 670.1h0M154.3 663.5h0M135.9 668.8h0M310 677h0M128.5 663.8h0M137.9 667.1h0M453.9 675.6h0M118.5 671.3h0M170.1 665.2h0M222.9 665.4h0M213.2 665.1h0M231.3 671.3h0M313.5 674.4h0M207.2 663.6h0M317 666.3h0M181 667.8h0M457.8 671.4h0M371.6 663.6h0M306.4 673.7h0M427.1 675.1h0M121 681.1h0M108.1 675.4h0M279.1 679.5h0M458.1 674.8h0M133.2 672.5h0M146.3 668.1h0M150.8 666.1h0M121.7 670.2h0M136.6 665.4h0M394.3 666h0M319.8 677.8h0M341.2 676.6h0M452.6 665.4h0M172 681.3h0M447 666.4h0M450.2 663.9h0M187.4 677.7h0M141.2 677.7h0M185.9 675.3h0M149.9 669.5h0M318 670.6h0M426.4 663.6h0M368.4 677.4h0M298.2 665.3h0M401.8 668.2h0M200.3 675.4h0M389.3 676.7h0M287.7 663.5h0M110.9 670.5h0M115.8 671.9h0M152.1 675.5h0M109.5 673.4h0M185.8 681.5h0M280.4 669.8h0M421.3 665.9h0M467.3 666.1h0M115.9 665.8h0M240.1 671.4h0M127 678.8h0M394.4 674.8h0M473.6 663.7h0M360 677.5h0M169.1 667.9h0M177.1 679.4h0M279.2 676.9h0M196.8 671.5h0M382.5 666.7h0M202.7 663.8h0M338.3 667.8h0M177.2 666.4h0M222 664.1h0M325 664.4h0M183.3 667h0M473.7 673.9h0M181.9 677.2h0M455 666.6h0M401.8 672.1h0M310.3 678.8h0M354.2 672.5h0M454.3 668.6h0M141.3 663.5h0M373.9 668.9h0M431.5 680.7h0M197.8 664.9h0M317.6 663.5h0M139.9 663.8h0M213.8 668.4h0M175.7 673.4h0M387.3 676.9h0M307.4 675h0M401.3 674.3h0M221.3 670.9h0M412.2 665.4h0M236.8 663.5h0M328 664.1h0M269.4 664.7h0M145.5 678.4h0M225.8 680.3h0M379.5 671.2h0M284.1 672.5h0M406.8 664.8h0M305.2 665.7h0M172.4 665.1h0M398.5 679.6h0M264.7 664.6h0M168.5 666.2h0M241.7 678.3h0M299.6 669.3h0M337.5 664.6h0M241.3 668.3h0M126.6 666.2h0M317 671.5h0M202 663.8h0M316.7 664.4h0M103.5 680.5h0M377 679.7h0M221.7 675.4h0M422.3 672.1h0M114.7 665.8h0M242.8 668.3h0M317.3 664.7h0M185.4 663.5h0M253.1 664.1h0M189.8 663.5h0M418.9 665.2h0M292.9 671h0M117.5 670.3h0M403.5 665.3h0M339.2 674.2h0M312.8 667h0M294.4 672.9h0M266.4 674.5h0M383.7 674.9h0M265.1 664.3h0M167.3 666.1h0M313.3 663.7h0M218.8 664.3h0M303.3 664.9h0M411.3 663.7h0M236.2 674.8h0M415.5 667.5h0M456.5 678.1h0" stroke="#c9c9c9" stroke-width="2.3" stroke-linecap="round" fill="none"/>
<rect x="208" y="660" width="38" height="18" fill="#c9c9c9"/>
<rect x="214" y="660" width="26" height="24" fill="#c9c9c9"/>
<rect x="421" y="660" width="6" height="36" fill="#c9c9c9"/>
<path d="M313.5 573h0M174.5 578.3h0M124.5 577.7h0M188.2 570.8h0M333.6 573.9h0M123.3 570.2h0M399 573.8h0M395.2 577.3h0M103.1 573.1h0M327.6 571.7h0M151.9 583h0M224 577.9h0M267.9 582.8h0M187.4 568.5h0M346.2 578.4h0M416.1 569.7h0M168.3 575.1h0M206.7 569.9h0M155 568.7h0M262.9 570h0M112.8 569.4h0M366.3 577.7h0M231.6 580.1h0M118.8 574.3h0M452.8 568.8h0M158 575.2h0M233.9 569h0M417.6 579.9h0M322.5 574.2h0M311.3 575.5h0M316 572.8h0M408.4 575.8h0M190.8 576.8h0M394.4 575.5h0M224 576.2h0M361.4 570.7h0M435.2 574.1h0M259.4 575.8h0M387.6 570.6h0M171 575.3h0M107.9 574.5h0M150.2 571h0M239.4 581.4h0M332.1 572.2h0M341.8 575.6h0M102.7 574.6h0M366 580.1h0M465.1 568.3h0M295.2 573.7h0M269.4 580.3h0M266.3 576.1h0M387.4 581h0M321.5 575.9h0M140 573.6h0M173.7 579.6h0M354.4 570h0M319.8 581.1h0M420.9 573.6h0M239.8 576h0M259.2 582.6h0M422.3 688.7h0M478 679.3h0M457.8 682.3h0M200.2 685.2h0M251.9 680.5h0M468.6 680.2h0M133.6 682.7h0M412.1 687.7h0M272.7 682.8h0M154.4 687.6h0M386.9 680.6h0M353.5 688.7h0M237.1 680.8h0M381.9 685.5h0M250.4 678.1h0M223.7 686.5h0M172.3 683.8h0M391.6 682.2h0M149.1 686.1h0M359.7 685.3h0M443.2 682.5h0M293.8 683.4h0M423.7 682h0M192.6 682.4h0M411.8 686.9h0M172.4 687.8h0M473.2 682h0M398.8 686.3h0M333.7 680.8h0M102.4 688.4h0M226.7 687.9h0M423.2 688.3h0M377.6 686.7h0M410.3 689.3h0M447.8 688.6h0M222.9 689h0M136.4 680.2h0M428 684.6h0M460.7 682h0M126.9 679.8h0M434.1 687.7h0M263.1 685.8h0M115.6 689.2h0M208.5 680.4h0M284.9 683.7h0M285.4 686.6h0M171.3 687.5h0M224.4 682.8h0M439.3 686.9h0M375.8 687.5h0M261.1 682.2h0M298.5 688.2h0M167.5 686.4h0M280.5 689.3h0M368.8 689.1h0M257.4 683.5h0M195.8 680.5h0M219.7 680.6h0M337.3 684.8h0M379.2 687h0M466.8 684.3h0M333.5 684.4h0M281.5 682.1h0M218.5 682h0M293.2 683.3h0M307.7 686h0M473.2 685h0M474.6 681.8h0M330.8 685h0M271.5 683.5h0M215.2 697.4h0M208.2 691.6h0M225.6 680h0M218.2 696.1h0M219.4 685.2h0M222.9 687.4h0M229 684h0M209.5 676.1h0M233 676h0M227.3 678.9h0M236.9 679.6h0M207.1 677.2h0M219.2 686.9h0M235.3 692.4h0M246.1 684.6h0M207 687.5h0M220.2 685.9h0M212.5 681h0M215.5 687.8h0M245.7 680.4h0M226.7 686.7h0M237.9 680.3h0M216.5 687.2h0M218.3 683.2h0M232.1 684.6h0M246.8 680.1h0M214.2 681.2h0M243.6 693.1h0M207.6 677.3h0M215.1 690.8h0M234.7 677.2h0M239 693.4h0M240.1 680.1h0M240.2 678.6h0M245.1 677h0M221.9 679.3h0M240.3 690.3h0M227.9 684.1h0M217.6 685.4h0M207 689.1h0M246.1 682.3h0M224.9 685.3h0M221.3 695.5h0M214.2 683h0M234.7 689.8h0M218.2 676.8h0M234.7 676.8h0M240.4 676h0M242.9 691.9h0M226.8 694.3h0M238.5 687.7h0M216.2 676.5h0M210 676.5h0M234 688.5h0M245.7 680.7h0M220.6 693.3h0M239 697.3h0M205.4 696.4h0M222.8 691.3h0M213.9 684.2h0M237.4 689h0M234.9 676.5h0M244.3 676.2h0M240.3 684.8h0M231.7 678h0M238.9 690.2h0M215.7 695.6h0M222.9 693.3h0M215 680.6h0M214.1 676.1h0M211.1 677.1h0M227.2 682.9h0M209.5 695.1h0M232.3 683.7h0M216.8 681.4h0M244.2 681.6h0M226.6 695.3h0M222.2 693.1h0M207.9 688.7h0M210.2 678.8h0M208.7 694h0M243.4 691.2h0M226.5 676.7h0M227.4 694.5h0M236 676h0M247.5 696.2h0M230.3 676h0M235.7 686.4h0M205.2 682h0M205.8 676.3h0M234.2 690.3h0M219 677.1h0M216.8 678.1h0M228.9 678.8h0M244.2 676h0M214.9 686.4h0M224.3 676.4h0M221.6 678.9h0M239.3 678.2h0M232.5 687.7h0M222.9 676.2h0M228 676.6h0M215.3 695.4h0M212.5 696.5h0M211.8 676.1h0M206.3 692.6h0M243.5 678.7h0M219.8 679.9h0M232.2 679.3h0M225.1 687.1h0M422.2 695.1h0M425.2 699.2h0M420 697.5h0M426.8 698.7h0M425.4 701.8h0M421.6 697.2h0M421.2 701.2h0M424.7 701h0M425.3 696.7h0M425.7 696.2h0M424 699h0M426.2 696h0M426 698.3h0M425 694.8h0M413.1 666.4h0M413.5 684.6h0M412.5 675.3h0M413.5 678.5h0M414.9 685.9h0M413.7 673.1h0M411.2 681.6h0M411.9 682.3h0M413.6 686.4h0M411.2 676.5h0M412.4 672.9h0M412 685.7h0M390.5 705h0M390.5 721.5h0M390.5 744.6h0M390.5 690h0M390.5 684h0M130.4 558.8h0M178.8 561.5h0M246.9 560h0M146.2 569.2h0M205.8 567.3h0M165.4 575.4h0M195.8 576.2h0M221.9 576.2h0M275.8 575.4h0M417.7 553.8h0M358.1 560.8h0M317.7 572.3h0M395.8 573.5h0M330.4 578h0M189.2 699.2h0M185.4 695h0M206.5 713.5h0M194.2 723h0M225.8 698h0M229.6 703.8h0M131.5 705.8h0M152 699.2h0M133.5 692.3h0M271.9 682.7h0M283.5 684.6h0" stroke="#c4c4c4" stroke-width="2.4" stroke-linecap="round" fill="none"/>
<path d="M101 631.8H173V633.2H176V631.8H219.4V649.6H241.5V631H273.3V632.5H285.8V632.2H298.2V633.5H300V635H302V637H304V639H305.5V642.6H314.3V631.8H350.2V630.1H365.7L370.4 633.2H374L379.8 631.8H411V629H416V631.3H452V630.6H463V633H474V631.3H479" stroke="#7d0a3c" stroke-width="2.3" fill="none" stroke-linejoin="miter"/>
<path d="M137.3 620.8V632M142.9 632V665.2M361.3 631V639M222.7 632V649.6M230 629.8V649.6M232 632V649.6M235.8 632V649.6M240.2 632V649.6M308.5 625.2V642M318.5 622.3V631M327 631V658.3M330 631V658.3M349.9 625.6V630M377.8 631V648.8M390.9 631V654.5M411.6 631V667.2M414.8 631V667M421.5 631V659.8M425.3 631V659.8M430.4 622.8V631" stroke="#7d0a3c" stroke-width="1.6" fill="none"/>
<path d="M130.1 632V649.5M159.7 632V650.4" stroke="#8f2a5a" stroke-width="3" fill="none"/>
<path d="M128.2 651.0h4l-2 -3.4zM140.9 666.0h4l-2 -3.4zM157.7 651.5h4l-2 -3.4zM325.0 659.5h4l-2 -3.4zM328.0 659.5h4l-2 -3.4zM375.8 649.5h4l-2 -3.4zM388.9 655.0h4l-2 -3.4zM359.3 640.0h4l-2 -3.4zM410.0 668.0h4l-2 -3.4zM413.0 666.0h4l-2 -3.4zM419.5 660.5h4l-2 -3.4zM423.3 660.5h4l-2 -3.4zM146.0 638.0h4l-2 -3.4zM258.8 635.0h4l-2 -3.4zM444.5 637.0h4l-2 -3.4zM135.3 624.0h4l-2 -3.4zM306.5 627.5h4l-2 -3.4zM316.5 625.5h4l-2 -3.4zM347.9 628.5h4l-2 -3.4zM428.4 626.0h4l-2 -3.4z" fill="#7d0a3c"/>
<line x1="104.8" y1="717.9" x2="127.1" y2="657.8" stroke="#111" stroke-width="1.45"/><path d="M128.8 653.1L128.6 659.4L124.8 658.0Z" fill="#111"/>
<line x1="142.3" y1="807" x2="142.3" y2="674.8" stroke="#111" stroke-width="1.45"/><path d="M142.3 669.8L144.3 675.8L140.3 675.8Z" fill="#111"/>
<line x1="159.6" y1="717.9" x2="159.6" y2="660.4" stroke="#111" stroke-width="1.45"/><path d="M159.6 655.4L161.6 661.4L157.6 661.4Z" fill="#111"/>
<line x1="218.5" y1="807" x2="218.5" y2="659.1" stroke="#111" stroke-width="1.45"/><path d="M218.5 654.1L220.5 660.1L216.5 660.1Z" fill="#111"/>
<line x1="237.1" y1="807" x2="237.1" y2="659.1" stroke="#111" stroke-width="1.45"/><path d="M237.1 654.1L239.1 660.1L235.1 660.1Z" fill="#111"/>
<line x1="217.9" y1="807.3" x2="237.7" y2="807.3" stroke="#111" stroke-width="1.3"/>
<line x1="265" y1="772.7" x2="242.3" y2="659.7" stroke="#111" stroke-width="1.45"/><path d="M241.3 654.8L244.4 660.3L240.5 661.1Z" fill="#111"/>
<line x1="294.6" y1="564.2" x2="306.4" y2="616.4" stroke="#111" stroke-width="1.45"/><path d="M307.5 621.3L304.2 615.9L308.1 615.0Z" fill="#111"/>
<line x1="302.3" y1="716.9" x2="310.1" y2="657.3" stroke="#111" stroke-width="1.45"/><path d="M310.8 652.3L312.0 658.5L308.0 658.0Z" fill="#111"/>
<line x1="325.8" y1="770" x2="328.1" y2="670" stroke="#111" stroke-width="1.45"/><path d="M328.2 665.0L330.1 671.0L326.1 671.0Z" fill="#111"/>
<line x1="358.4" y1="718.1" x2="375.4" y2="659" stroke="#111" stroke-width="1.45"/><path d="M376.8 654.2L377.1 660.5L373.2 659.4Z" fill="#111"/>
<line x1="371.2" y1="807.2" x2="388.9" y2="665.4" stroke="#111" stroke-width="1.45"/><path d="M389.5 660.4L390.7 666.6L386.8 666.1Z" fill="#111"/>
<line x1="413.1" y1="772.3" x2="413.1" y2="679.2" stroke="#111" stroke-width="1.45"/><path d="M413.1 674.2L415.1 680.2L411.1 680.2Z" fill="#111"/>
<line x1="463.4" y1="772.3" x2="427.5" y2="670.9" stroke="#111" stroke-width="1.45"/><path d="M425.8 666.2L429.7 671.2L425.9 672.5Z" fill="#111"/>
<text x="101.8" y="734.2" font-size="12" text-anchor="middle" fill="#0a0a0a" stroke="#0a0a0a" stroke-width="0.15" textLength="13.4" lengthAdjust="spacing">1q</text>
<text x="161.4" y="734.2" font-size="12" text-anchor="middle" fill="#0a0a0a" stroke="#0a0a0a" stroke-width="0.15" textLength="13.4" lengthAdjust="spacing">2q</text>
<text x="292.5" y="560.2" font-size="12" text-anchor="middle" fill="#0a0a0a" stroke="#0a0a0a" stroke-width="0.15" textLength="13.5" lengthAdjust="spacing">9q</text>
<text x="300.2" y="733.8" font-size="12" text-anchor="middle" fill="#0a0a0a" stroke="#0a0a0a" stroke-width="0.15" textLength="14.1" lengthAdjust="spacing">9q</text>
<text x="265.4" y="788" font-size="12" text-anchor="middle" fill="#0a0a0a" stroke="#0a0a0a" stroke-width="0.15" textLength="14" lengthAdjust="spacing">6q</text>
<text x="324.8" y="788.5" font-size="12" text-anchor="middle" fill="#0a0a0a" stroke="#0a0a0a" stroke-width="0.15" textLength="20.5" lengthAdjust="spacing">10q</text>
<text x="355.1" y="734.2" font-size="12" text-anchor="middle" fill="#0a0a0a" stroke="#0a0a0a" stroke-width="0.15" textLength="21.2" lengthAdjust="spacing">13q</text>
<text x="410.2" y="788.5" font-size="12" text-anchor="middle" fill="#0a0a0a" stroke="#0a0a0a" stroke-width="0.15" textLength="20.5" lengthAdjust="spacing">17p</text>
<text x="464.4" y="788.5" font-size="12" text-anchor="middle" fill="#0a0a0a" stroke="#0a0a0a" stroke-width="0.15" textLength="55.1" lengthAdjust="spacing">18p &amp; 18q</text>
<text x="142.6" y="825.8" font-size="12" text-anchor="middle" fill="#0a0a0a" stroke="#0a0a0a" stroke-width="0.15" textLength="37.4" lengthAdjust="spacing">2p11.2</text>
<text x="139.6" y="840.4" font-size="11.2" text-anchor="middle" fill="#0a0a0a" stroke="#0a0a0a" stroke-width="0.1" textLength="24.8" lengthAdjust="spacing" font-style="italic">IGKV</text>
<text x="227.1" y="826" font-size="12" text-anchor="middle" fill="#0a0a0a" stroke="#0a0a0a" stroke-width="0.15" textLength="84.3" lengthAdjust="spacing">Multiple events</text>
<text x="224.2" y="841.3" font-size="12" text-anchor="middle" fill="#0a0a0a" stroke="#0a0a0a" stroke-width="0.15" textLength="45.1" lengthAdjust="spacing">on chr. 5</text>
<text x="366.8" y="826" font-size="12" text-anchor="middle" fill="#0a0a0a" stroke="#0a0a0a" stroke-width="0.15" textLength="49.9" lengthAdjust="spacing">14q32.33</text>
<text x="368" y="841" font-size="11.2" text-anchor="middle" fill="#0a0a0a" stroke="#0a0a0a" stroke-width="0.1" textLength="23" lengthAdjust="spacing" font-style="italic">IGHs</text>
<rect x="370.5" y="496.4" width="146" height="36.4" fill="#fff" stroke="#333" stroke-width="1"/>
<line x1="377.2" y1="507.1" x2="409.8" y2="507.1" stroke="#7d0a3c" stroke-width="3" stroke-linecap="round"/>
<line x1="377.2" y1="523.2" x2="409.8" y2="523.2" stroke="#c8c8c8" stroke-width="3" stroke-linecap="round"/>
<text x="422.3" y="510.7" font-size="12.7" text-anchor="start" fill="#444" >Segment</text>
<text x="422.3" y="526.8" font-size="12.9" text-anchor="start" fill="#444" >Geomean Ratio</text>
<line x1="64.6" y1="495.4" x2="64.6" y2="854.7" stroke="#111" stroke-width="1.8"/>
<line x1="64" y1="496.4" x2="517.1" y2="496.4" stroke="#111" stroke-width="2"/>
<line x1="516.4" y1="496.4" x2="516.4" y2="854" stroke="#3c3c3c" stroke-width="1.4"/>
<line x1="65" y1="854" x2="517.1" y2="854" stroke="#3c3c3c" stroke-width="1.4"/>
<line x1="58.3" y1="633" x2="64" y2="633" stroke="#333" stroke-width="1.3"/>
<text x="39.7" y="640.6" font-size="13.5" text-anchor="end" fill="#555" >10</text>
<text x="38.8" y="634.7" font-size="10.2" text-anchor="start" fill="#555" >0.0</text>
<text x="52.6" y="517.8" font-size="10" text-anchor="end" fill="#1a1a1a" >4</text>
<text x="52.6" y="542.8" font-size="10" text-anchor="end" fill="#1a1a1a" >3</text>
<text x="52.6" y="578" font-size="10" text-anchor="end" fill="#1a1a1a" >2</text>
<text x="52.6" y="648.2" font-size="10" text-anchor="end" fill="#1a1a1a" >9</text>
<text x="52.6" y="658.8" font-size="10" text-anchor="end" fill="#1a1a1a" >8</text>
<text x="52.6" y="670.3" font-size="10" text-anchor="end" fill="#1a1a1a" >7</text>
<text x="52.6" y="684" font-size="10" text-anchor="end" fill="#1a1a1a" >6</text>
<text x="52.6" y="700.1" font-size="10" text-anchor="end" fill="#1a1a1a" >5</text>
<text x="52.6" y="720" font-size="10" text-anchor="end" fill="#1a1a1a" >4</text>
<text x="52.6" y="745.2" font-size="10" text-anchor="end" fill="#1a1a1a" >3</text>
<text x="52.6" y="780.5" font-size="10" text-anchor="end" fill="#1a1a1a" >2</text>
<line x1="58.3" y1="835" x2="64" y2="835" stroke="#333" stroke-width="1.3"/>
<text x="38" y="842.6" font-size="13.5" text-anchor="end" fill="#555" >10</text>
<text x="35.3" y="836.9" font-size="10.2" text-anchor="start" fill="#555" >-1.0</text>
<text transform="translate(12.9 638.2) rotate(-90)" font-size="13.1" text-anchor="middle" fill="#111">log ratio</text>
<line x1="101.8" y1="854" x2="101.8" y2="860.3" stroke="#555" stroke-width="1.4"/>
<text x="101.8" y="878.3" font-size="13" text-anchor="middle" fill="#444" >0</text>
<line x1="207.4" y1="854" x2="207.4" y2="860.3" stroke="#555" stroke-width="1.4"/>
<text x="207.4" y="878.3" font-size="13" text-anchor="middle" fill="#444" >100000</text>
<line x1="313" y1="854" x2="313" y2="860.3" stroke="#555" stroke-width="1.4"/>
<text x="313" y="878.3" font-size="13" text-anchor="middle" fill="#444" >200000</text>
<line x1="418.6" y1="854" x2="418.6" y2="860.3" stroke="#555" stroke-width="1.4"/>
<text x="418.6" y="878.3" font-size="13" text-anchor="middle" fill="#444" >300000</text>
<text x="289.7" y="898.7" font-size="12.8" text-anchor="middle" fill="#444" >probe number in genomic order</text>
</svg></body></html>
